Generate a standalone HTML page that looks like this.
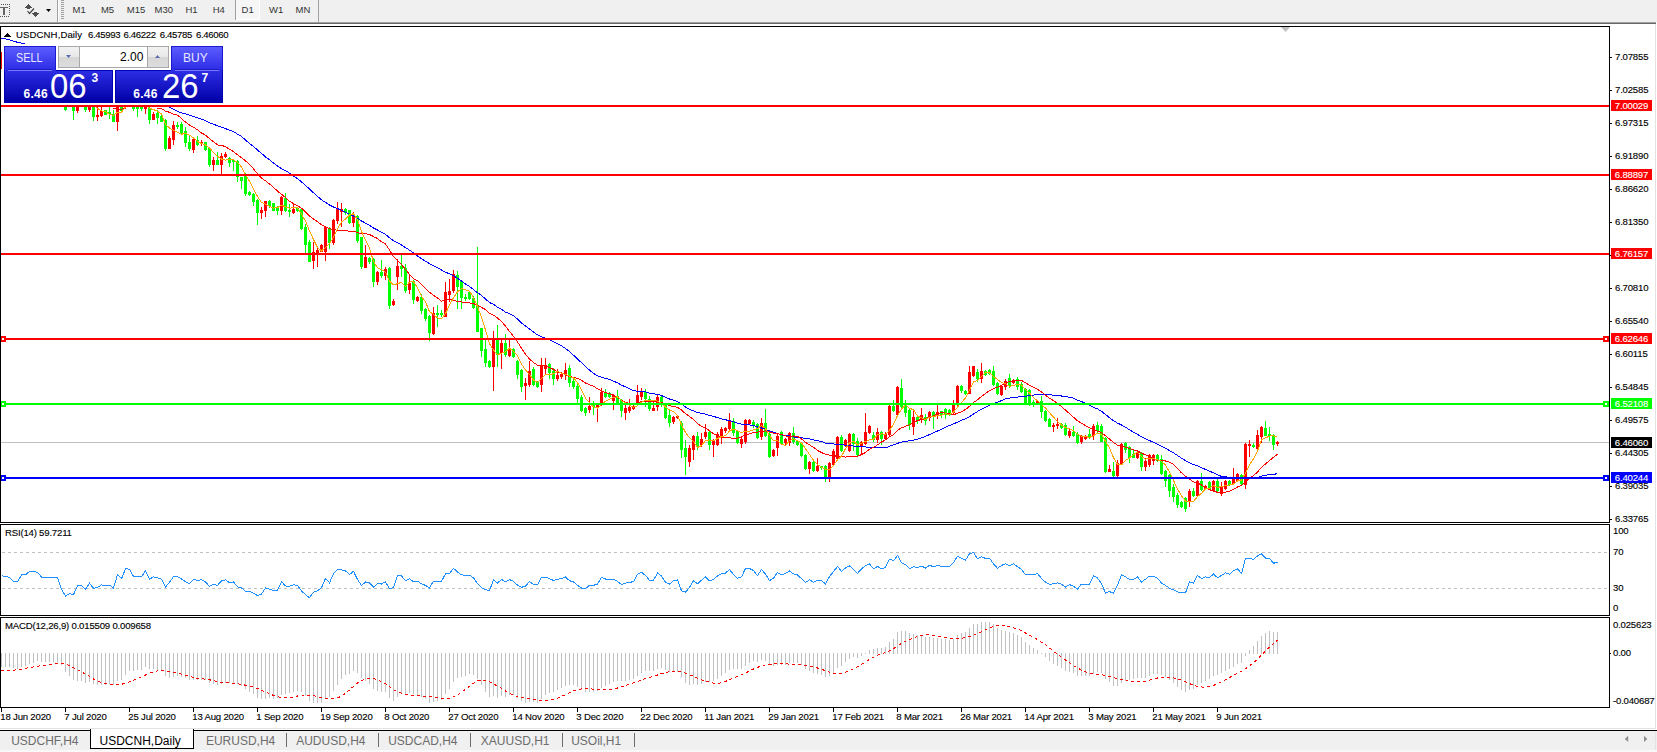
<!DOCTYPE html><html><head><meta charset="utf-8"><style>
*{margin:0;padding:0;box-sizing:border-box}
body{width:1657px;height:752px;overflow:hidden;background:#fff;position:relative;font-family:"Liberation Sans",sans-serif}
.t{position:absolute;white-space:nowrap;line-height:14px;font-size:9.6px;letter-spacing:-0.2px;-webkit-text-stroke:0.12px currentColor}
.lbl{position:absolute;left:1611px;width:41px;height:11px;font-size:9.6px;letter-spacing:-0.2px;-webkit-text-stroke:0.12px currentColor;line-height:12px;text-align:center;white-space:nowrap}
#tb{position:absolute;left:0;top:0;width:1657px;height:22px;background:#f0f0f0}
.tbt{position:absolute;top:3px;font-size:9.5px;line-height:13px;color:#333}
#tabs{position:absolute;left:0;top:728px;width:1657px;height:24px;background:#f0f0f0}
.tab{position:absolute;top:734px;font-size:12px;line-height:14px;color:#6d6d6d;white-space:nowrap}
</style></head><body>
<div id="tb">
<svg width="70" height="22" style="position:absolute;left:0;top:0" shape-rendering="crispEdges">
<rect x="1" y="4" width="1" height="1" fill="#555"/>
<rect x="0" y="16" width="1" height="1" fill="#555"/>
<rect x="3" y="4" width="1" height="1" fill="#555"/>
<rect x="2" y="16" width="1" height="1" fill="#555"/>
<rect x="5" y="4" width="1" height="1" fill="#555"/>
<rect x="4" y="16" width="1" height="1" fill="#555"/>
<rect x="7" y="4" width="1" height="1" fill="#555"/>
<rect x="6" y="16" width="1" height="1" fill="#555"/>
<rect x="9" y="4" width="1" height="1" fill="#555"/>
<rect x="8" y="16" width="1" height="1" fill="#555"/>
<rect x="9" y="6" width="1" height="1" fill="#555"/>
<rect x="9" y="8" width="1" height="1" fill="#555"/>
<rect x="9" y="10" width="1" height="1" fill="#555"/>
<rect x="9" y="12" width="1" height="1" fill="#555"/>
<rect x="9" y="14" width="1" height="1" fill="#555"/>
<rect x="0" y="7" width="8" height="1" fill="#666"/><rect x="3" y="7" width="2" height="8" fill="#666"/>
<rect x="28" y="4" width="1" height="1" fill="#505050"/>
<rect x="27" y="5" width="3" height="1" fill="#505050"/>
<rect x="26" y="6" width="5" height="1" fill="#505050"/>
<rect x="25" y="7" width="7" height="1" fill="#505050"/>
<rect x="27" y="8" width="3" height="1" fill="#505050"/>
<rect x="34" y="12" width="3" height="1" fill="#505050"/>
<rect x="32" y="13" width="7" height="1" fill="#505050"/>
<rect x="33" y="14" width="5" height="1" fill="#505050"/>
<rect x="34" y="15" width="3" height="1" fill="#505050"/>
<rect x="35" y="16" width="1" height="1" fill="#505050"/>
<polyline points="27.5,11 29.5,13.5 34,8.5" fill="none" stroke="#444" stroke-width="1.2" shape-rendering="auto"/>
<polygon points="46,9 51,9 48.5,12" fill="#000" shape-rendering="auto"/>
<rect x="57" y="0" width="1" height="22" fill="#a0a0a0"/><rect x="58" y="0" width="1" height="22" fill="#fff"/>
<rect x="61" y="0" width="3" height="1" fill="#a0a0a0"/>
<rect x="61" y="2" width="3" height="1" fill="#a0a0a0"/>
<rect x="61" y="4" width="3" height="1" fill="#a0a0a0"/>
<rect x="61" y="6" width="3" height="1" fill="#a0a0a0"/>
<rect x="61" y="8" width="3" height="1" fill="#a0a0a0"/>
<rect x="61" y="10" width="3" height="1" fill="#a0a0a0"/>
<rect x="61" y="12" width="3" height="1" fill="#a0a0a0"/>
<rect x="61" y="14" width="3" height="1" fill="#a0a0a0"/>
<rect x="61" y="16" width="3" height="1" fill="#a0a0a0"/>
<rect x="61" y="18" width="3" height="1" fill="#a0a0a0"/>
</svg>
<div style="position:absolute;left:235px;top:0;width:1px;height:20px;background:#a0a0a0"></div>
<div style="position:absolute;left:236px;top:0;width:24px;height:20px;background:#f6f6f6;border-right:1px solid #fff;border-bottom:1px solid #fff"></div>
<div style="position:absolute;left:318px;top:0;width:1px;height:22px;background:#a0a0a0"></div>
<div class="tbt" style="left:72.6px">M1</div>
<div class="tbt" style="left:100.9px">M5</div>
<div class="tbt" style="left:126.8px">M15</div>
<div class="tbt" style="left:154.6px">M30</div>
<div class="tbt" style="left:185.4px">H1</div>
<div class="tbt" style="left:212.7px">H4</div>
<div class="tbt" style="left:241.6px">D1</div>
<div class="tbt" style="left:269.0px">W1</div>
<div class="tbt" style="left:295.6px">MN</div>
</div>
<div style="position:absolute;left:0;top:22px;width:1656px;height:1px;background:#a0a0a0"></div>
<div style="position:absolute;left:0;top:23px;width:1656px;height:1px;background:#696969"></div>
<div style="position:absolute;left:1655px;top:24px;width:1px;height:704px;background:#e3e3e3"></div>
<svg width="1657" height="752" style="position:absolute;left:0;top:0" shape-rendering="crispEdges">
<defs><clipPath id="cm"><rect x="1" y="27" width="1608" height="495"/></clipPath><clipPath id="cr"><rect x="1" y="525" width="1608" height="90"/></clipPath><clipPath id="cd"><rect x="1" y="618" width="1608" height="89"/></clipPath><clipPath id="cma"><rect x="1" y="27" width="160" height="18"/><rect x="1" y="108" width="1608" height="414"/><rect x="158" y="27" width="1451" height="495"/></clipPath></defs>
<g clip-path="url(#cm)">
<rect x="1" y="442" width="1608" height="1" fill="#c0c0c0"/>
<rect x="65" y="107" width="1" height="4" fill="#00ff00"/>
<rect x="64" y="107" width="3" height="3" fill="#00ff00"/>
<rect x="73" y="107" width="1" height="13" fill="#00ff00"/>
<rect x="72" y="107" width="3" height="4" fill="#00ff00"/>
<rect x="77" y="107" width="1" height="6" fill="#ff0000"/>
<rect x="76" y="107" width="3" height="4" fill="#ff0000"/>
<rect x="85" y="107" width="1" height="5" fill="#00ff00"/>
<rect x="84" y="107" width="3" height="3" fill="#00ff00"/>
<rect x="89" y="107" width="1" height="5" fill="#ff0000"/>
<rect x="88" y="107" width="3" height="3" fill="#ff0000"/>
<rect x="93" y="107" width="1" height="14" fill="#00ff00"/>
<rect x="92" y="107" width="3" height="10" fill="#00ff00"/>
<rect x="97" y="107" width="1" height="14" fill="#ff0000"/>
<rect x="96" y="115" width="3" height="2" fill="#ff0000"/>
<rect x="101" y="107" width="1" height="10" fill="#ff0000"/>
<rect x="100" y="111" width="3" height="5" fill="#ff0000"/>
<rect x="105" y="110" width="1" height="5" fill="#00ff00"/>
<rect x="104" y="110" width="3" height="5" fill="#00ff00"/>
<rect x="109" y="107" width="1" height="12" fill="#00ff00"/>
<rect x="108" y="112" width="3" height="2" fill="#00ff00"/>
<rect x="113" y="110" width="1" height="12" fill="#00ff00"/>
<rect x="112" y="114" width="3" height="8" fill="#00ff00"/>
<rect x="117" y="107" width="1" height="24" fill="#ff0000"/>
<rect x="116" y="107" width="3" height="15" fill="#ff0000"/>
<rect x="121" y="107" width="1" height="5" fill="#00ff00"/>
<rect x="120" y="107" width="3" height="4" fill="#00ff00"/>
<rect x="133" y="107" width="1" height="4" fill="#00ff00"/>
<rect x="132" y="107" width="3" height="2" fill="#00ff00"/>
<rect x="137" y="107" width="1" height="10" fill="#00ff00"/>
<rect x="136" y="107" width="3" height="2" fill="#00ff00"/>
<rect x="141" y="107" width="1" height="4" fill="#00ff00"/>
<rect x="140" y="107" width="3" height="2" fill="#00ff00"/>
<rect x="145" y="107" width="1" height="7" fill="#ff0000"/>
<rect x="144" y="107" width="3" height="2" fill="#ff0000"/>
<rect x="149" y="107" width="1" height="17" fill="#00ff00"/>
<rect x="148" y="108" width="3" height="12" fill="#00ff00"/>
<rect x="153" y="112" width="1" height="8" fill="#ff0000"/>
<rect x="152" y="114" width="3" height="6" fill="#ff0000"/>
<rect x="157" y="110" width="1" height="14" fill="#00ff00"/>
<rect x="156" y="113" width="3" height="5" fill="#00ff00"/>
<rect x="161" y="115" width="1" height="7" fill="#00ff00"/>
<rect x="160" y="116" width="3" height="6" fill="#00ff00"/>
<rect x="165" y="119" width="1" height="32" fill="#00ff00"/>
<rect x="164" y="120" width="3" height="29" fill="#00ff00"/>
<rect x="169" y="136" width="1" height="13" fill="#ff0000"/>
<rect x="168" y="138" width="3" height="11" fill="#ff0000"/>
<rect x="173" y="121" width="1" height="24" fill="#ff0000"/>
<rect x="172" y="125" width="3" height="15" fill="#ff0000"/>
<rect x="177" y="122" width="1" height="7" fill="#00ff00"/>
<rect x="176" y="125" width="3" height="2" fill="#00ff00"/>
<rect x="181" y="122" width="1" height="12" fill="#00ff00"/>
<rect x="180" y="124" width="3" height="9" fill="#00ff00"/>
<rect x="185" y="127" width="1" height="20" fill="#00ff00"/>
<rect x="184" y="131" width="3" height="12" fill="#00ff00"/>
<rect x="189" y="135" width="1" height="16" fill="#00ff00"/>
<rect x="188" y="142" width="3" height="7" fill="#00ff00"/>
<rect x="193" y="139" width="1" height="14" fill="#ff0000"/>
<rect x="192" y="139" width="3" height="11" fill="#ff0000"/>
<rect x="197" y="136" width="1" height="10" fill="#00ff00"/>
<rect x="196" y="140" width="3" height="5" fill="#00ff00"/>
<rect x="201" y="140" width="1" height="6" fill="#ff0000"/>
<rect x="200" y="142" width="3" height="2" fill="#ff0000"/>
<rect x="205" y="142" width="1" height="9" fill="#00ff00"/>
<rect x="204" y="142" width="3" height="8" fill="#00ff00"/>
<rect x="209" y="148" width="1" height="19" fill="#00ff00"/>
<rect x="208" y="148" width="3" height="17" fill="#00ff00"/>
<rect x="213" y="157" width="1" height="14" fill="#ff0000"/>
<rect x="212" y="160" width="3" height="5" fill="#ff0000"/>
<rect x="217" y="152" width="1" height="13" fill="#00ff00"/>
<rect x="216" y="160" width="3" height="5" fill="#00ff00"/>
<rect x="221" y="153" width="1" height="22" fill="#ff0000"/>
<rect x="220" y="156" width="3" height="9" fill="#ff0000"/>
<rect x="225" y="152" width="1" height="6" fill="#ff0000"/>
<rect x="224" y="154" width="3" height="3" fill="#ff0000"/>
<rect x="229" y="157" width="1" height="10" fill="#00ff00"/>
<rect x="228" y="158" width="3" height="5" fill="#00ff00"/>
<rect x="233" y="159" width="1" height="12" fill="#00ff00"/>
<rect x="232" y="160" width="3" height="2" fill="#00ff00"/>
<rect x="237" y="160" width="1" height="22" fill="#00ff00"/>
<rect x="236" y="161" width="3" height="16" fill="#00ff00"/>
<rect x="241" y="177" width="1" height="12" fill="#00ff00"/>
<rect x="240" y="177" width="3" height="4" fill="#00ff00"/>
<rect x="245" y="173" width="1" height="23" fill="#00ff00"/>
<rect x="244" y="175" width="3" height="19" fill="#00ff00"/>
<rect x="249" y="191" width="1" height="5" fill="#00ff00"/>
<rect x="248" y="192" width="3" height="3" fill="#00ff00"/>
<rect x="253" y="193" width="1" height="13" fill="#00ff00"/>
<rect x="252" y="194" width="3" height="8" fill="#00ff00"/>
<rect x="257" y="199" width="1" height="26" fill="#00ff00"/>
<rect x="256" y="200" width="3" height="13" fill="#00ff00"/>
<rect x="261" y="207" width="1" height="12" fill="#ff0000"/>
<rect x="260" y="210" width="3" height="3" fill="#ff0000"/>
<rect x="265" y="201" width="1" height="16" fill="#ff0000"/>
<rect x="264" y="201" width="3" height="10" fill="#ff0000"/>
<rect x="269" y="200" width="1" height="8" fill="#00ff00"/>
<rect x="268" y="201" width="3" height="5" fill="#00ff00"/>
<rect x="273" y="203" width="1" height="8" fill="#00ff00"/>
<rect x="272" y="203" width="3" height="8" fill="#00ff00"/>
<rect x="277" y="206" width="1" height="9" fill="#00ff00"/>
<rect x="276" y="207" width="3" height="4" fill="#00ff00"/>
<rect x="281" y="196" width="1" height="19" fill="#ff0000"/>
<rect x="280" y="197" width="3" height="14" fill="#ff0000"/>
<rect x="285" y="193" width="1" height="19" fill="#00ff00"/>
<rect x="284" y="198" width="3" height="13" fill="#00ff00"/>
<rect x="289" y="204" width="1" height="13" fill="#00ff00"/>
<rect x="288" y="210" width="3" height="2" fill="#00ff00"/>
<rect x="293" y="203" width="1" height="11" fill="#ff0000"/>
<rect x="292" y="209" width="3" height="4" fill="#ff0000"/>
<rect x="297" y="207" width="1" height="5" fill="#00ff00"/>
<rect x="296" y="208" width="3" height="3" fill="#00ff00"/>
<rect x="301" y="209" width="1" height="21" fill="#00ff00"/>
<rect x="300" y="209" width="3" height="20" fill="#00ff00"/>
<rect x="305" y="224" width="1" height="29" fill="#00ff00"/>
<rect x="304" y="227" width="3" height="18" fill="#00ff00"/>
<rect x="309" y="240" width="1" height="22" fill="#00ff00"/>
<rect x="308" y="242" width="3" height="20" fill="#00ff00"/>
<rect x="313" y="242" width="1" height="27" fill="#ff0000"/>
<rect x="312" y="252" width="3" height="9" fill="#ff0000"/>
<rect x="317" y="246" width="1" height="21" fill="#ff0000"/>
<rect x="316" y="250" width="3" height="5" fill="#ff0000"/>
<rect x="321" y="244" width="1" height="8" fill="#ff0000"/>
<rect x="320" y="245" width="3" height="7" fill="#ff0000"/>
<rect x="325" y="226" width="1" height="35" fill="#ff0000"/>
<rect x="324" y="227" width="3" height="25" fill="#ff0000"/>
<rect x="329" y="227" width="1" height="22" fill="#00ff00"/>
<rect x="328" y="228" width="3" height="15" fill="#00ff00"/>
<rect x="333" y="219" width="1" height="26" fill="#ff0000"/>
<rect x="332" y="220" width="3" height="23" fill="#ff0000"/>
<rect x="337" y="202" width="1" height="22" fill="#ff0000"/>
<rect x="336" y="209" width="3" height="12" fill="#ff0000"/>
<rect x="341" y="203" width="1" height="24" fill="#ff0000"/>
<rect x="340" y="209" width="3" height="3" fill="#ff0000"/>
<rect x="345" y="208" width="1" height="7" fill="#00ff00"/>
<rect x="344" y="209" width="3" height="4" fill="#00ff00"/>
<rect x="349" y="210" width="1" height="14" fill="#00ff00"/>
<rect x="348" y="210" width="3" height="13" fill="#00ff00"/>
<rect x="353" y="212" width="1" height="15" fill="#ff0000"/>
<rect x="352" y="214" width="3" height="9" fill="#ff0000"/>
<rect x="357" y="215" width="1" height="28" fill="#00ff00"/>
<rect x="356" y="216" width="3" height="25" fill="#00ff00"/>
<rect x="361" y="237" width="1" height="32" fill="#00ff00"/>
<rect x="360" y="237" width="3" height="30" fill="#00ff00"/>
<rect x="365" y="245" width="1" height="23" fill="#ff0000"/>
<rect x="364" y="257" width="3" height="11" fill="#ff0000"/>
<rect x="369" y="257" width="1" height="7" fill="#00ff00"/>
<rect x="368" y="258" width="3" height="4" fill="#00ff00"/>
<rect x="373" y="258" width="1" height="29" fill="#00ff00"/>
<rect x="372" y="259" width="3" height="23" fill="#00ff00"/>
<rect x="377" y="271" width="1" height="14" fill="#ff0000"/>
<rect x="376" y="272" width="3" height="10" fill="#ff0000"/>
<rect x="381" y="260" width="1" height="18" fill="#00ff00"/>
<rect x="380" y="272" width="3" height="4" fill="#00ff00"/>
<rect x="385" y="267" width="1" height="13" fill="#ff0000"/>
<rect x="384" y="269" width="3" height="7" fill="#ff0000"/>
<rect x="389" y="267" width="1" height="42" fill="#00ff00"/>
<rect x="388" y="268" width="3" height="38" fill="#00ff00"/>
<rect x="393" y="299" width="1" height="7" fill="#ff0000"/>
<rect x="392" y="301" width="3" height="4" fill="#ff0000"/>
<rect x="397" y="259" width="1" height="31" fill="#ff0000"/>
<rect x="396" y="266" width="3" height="11" fill="#ff0000"/>
<rect x="401" y="255" width="1" height="22" fill="#00ff00"/>
<rect x="400" y="266" width="3" height="3" fill="#00ff00"/>
<rect x="405" y="264" width="1" height="29" fill="#00ff00"/>
<rect x="404" y="268" width="3" height="23" fill="#00ff00"/>
<rect x="409" y="274" width="1" height="20" fill="#ff0000"/>
<rect x="408" y="283" width="3" height="7" fill="#ff0000"/>
<rect x="413" y="280" width="1" height="24" fill="#00ff00"/>
<rect x="412" y="281" width="3" height="19" fill="#00ff00"/>
<rect x="417" y="296" width="1" height="6" fill="#ff0000"/>
<rect x="416" y="297" width="3" height="4" fill="#ff0000"/>
<rect x="421" y="294" width="1" height="20" fill="#00ff00"/>
<rect x="420" y="297" width="3" height="14" fill="#00ff00"/>
<rect x="425" y="308" width="1" height="13" fill="#00ff00"/>
<rect x="424" y="309" width="3" height="10" fill="#00ff00"/>
<rect x="429" y="315" width="1" height="26" fill="#00ff00"/>
<rect x="428" y="316" width="3" height="17" fill="#00ff00"/>
<rect x="433" y="307" width="1" height="28" fill="#ff0000"/>
<rect x="432" y="313" width="3" height="21" fill="#ff0000"/>
<rect x="437" y="305" width="1" height="22" fill="#00ff00"/>
<rect x="436" y="313" width="3" height="2" fill="#00ff00"/>
<rect x="441" y="310" width="1" height="7" fill="#00ff00"/>
<rect x="440" y="313" width="3" height="2" fill="#00ff00"/>
<rect x="445" y="282" width="1" height="35" fill="#ff0000"/>
<rect x="444" y="292" width="3" height="25" fill="#ff0000"/>
<rect x="449" y="279" width="1" height="23" fill="#ff0000"/>
<rect x="448" y="291" width="3" height="4" fill="#ff0000"/>
<rect x="453" y="270" width="1" height="23" fill="#ff0000"/>
<rect x="452" y="274" width="3" height="17" fill="#ff0000"/>
<rect x="457" y="271" width="1" height="38" fill="#00ff00"/>
<rect x="456" y="275" width="3" height="12" fill="#00ff00"/>
<rect x="461" y="280" width="1" height="29" fill="#00ff00"/>
<rect x="460" y="281" width="3" height="17" fill="#00ff00"/>
<rect x="465" y="294" width="1" height="7" fill="#00ff00"/>
<rect x="464" y="297" width="3" height="2" fill="#00ff00"/>
<rect x="469" y="291" width="1" height="9" fill="#00ff00"/>
<rect x="468" y="292" width="3" height="7" fill="#00ff00"/>
<rect x="473" y="296" width="1" height="13" fill="#00ff00"/>
<rect x="472" y="298" width="3" height="10" fill="#00ff00"/>
<rect x="477" y="247" width="1" height="85" fill="#00ff00"/>
<rect x="476" y="306" width="3" height="26" fill="#00ff00"/>
<rect x="481" y="328" width="1" height="29" fill="#00ff00"/>
<rect x="480" y="328" width="3" height="23" fill="#00ff00"/>
<rect x="485" y="340" width="1" height="27" fill="#00ff00"/>
<rect x="484" y="349" width="3" height="14" fill="#00ff00"/>
<rect x="489" y="360" width="1" height="8" fill="#00ff00"/>
<rect x="488" y="361" width="3" height="6" fill="#00ff00"/>
<rect x="493" y="331" width="1" height="60" fill="#ff0000"/>
<rect x="492" y="339" width="3" height="28" fill="#ff0000"/>
<rect x="497" y="325" width="1" height="42" fill="#00ff00"/>
<rect x="496" y="340" width="3" height="15" fill="#00ff00"/>
<rect x="501" y="339" width="1" height="30" fill="#ff0000"/>
<rect x="500" y="343" width="3" height="10" fill="#ff0000"/>
<rect x="505" y="334" width="1" height="23" fill="#00ff00"/>
<rect x="504" y="343" width="3" height="12" fill="#00ff00"/>
<rect x="509" y="340" width="1" height="17" fill="#ff0000"/>
<rect x="508" y="348" width="3" height="8" fill="#ff0000"/>
<rect x="513" y="348" width="1" height="10" fill="#00ff00"/>
<rect x="512" y="349" width="3" height="8" fill="#00ff00"/>
<rect x="517" y="360" width="1" height="19" fill="#00ff00"/>
<rect x="516" y="361" width="3" height="14" fill="#00ff00"/>
<rect x="521" y="369" width="1" height="23" fill="#00ff00"/>
<rect x="520" y="370" width="3" height="17" fill="#00ff00"/>
<rect x="525" y="378" width="1" height="22" fill="#ff0000"/>
<rect x="524" y="383" width="3" height="3" fill="#ff0000"/>
<rect x="529" y="361" width="1" height="26" fill="#ff0000"/>
<rect x="528" y="371" width="3" height="14" fill="#ff0000"/>
<rect x="533" y="367" width="1" height="19" fill="#00ff00"/>
<rect x="532" y="369" width="3" height="16" fill="#00ff00"/>
<rect x="537" y="381" width="1" height="7" fill="#00ff00"/>
<rect x="536" y="382" width="3" height="5" fill="#00ff00"/>
<rect x="541" y="358" width="1" height="34" fill="#ff0000"/>
<rect x="540" y="365" width="3" height="20" fill="#ff0000"/>
<rect x="545" y="358" width="1" height="17" fill="#ff0000"/>
<rect x="544" y="365" width="3" height="4" fill="#ff0000"/>
<rect x="549" y="363" width="1" height="16" fill="#00ff00"/>
<rect x="548" y="364" width="3" height="9" fill="#00ff00"/>
<rect x="553" y="368" width="1" height="17" fill="#00ff00"/>
<rect x="552" y="371" width="3" height="8" fill="#00ff00"/>
<rect x="557" y="369" width="1" height="12" fill="#ff0000"/>
<rect x="556" y="375" width="3" height="4" fill="#ff0000"/>
<rect x="561" y="372" width="1" height="7" fill="#ff0000"/>
<rect x="560" y="374" width="3" height="3" fill="#ff0000"/>
<rect x="565" y="363" width="1" height="17" fill="#ff0000"/>
<rect x="564" y="370" width="3" height="4" fill="#ff0000"/>
<rect x="569" y="365" width="1" height="22" fill="#00ff00"/>
<rect x="568" y="368" width="3" height="15" fill="#00ff00"/>
<rect x="573" y="379" width="1" height="10" fill="#00ff00"/>
<rect x="572" y="381" width="3" height="6" fill="#00ff00"/>
<rect x="577" y="384" width="1" height="21" fill="#00ff00"/>
<rect x="576" y="386" width="3" height="13" fill="#00ff00"/>
<rect x="581" y="395" width="1" height="17" fill="#00ff00"/>
<rect x="580" y="397" width="3" height="14" fill="#00ff00"/>
<rect x="585" y="407" width="1" height="9" fill="#00ff00"/>
<rect x="584" y="408" width="3" height="5" fill="#00ff00"/>
<rect x="589" y="397" width="1" height="16" fill="#ff0000"/>
<rect x="588" y="406" width="3" height="4" fill="#ff0000"/>
<rect x="593" y="401" width="1" height="14" fill="#00ff00"/>
<rect x="592" y="403" width="3" height="4" fill="#00ff00"/>
<rect x="597" y="404" width="1" height="18" fill="#ff0000"/>
<rect x="596" y="404" width="3" height="3" fill="#ff0000"/>
<rect x="601" y="388" width="1" height="18" fill="#ff0000"/>
<rect x="600" y="392" width="3" height="13" fill="#ff0000"/>
<rect x="605" y="389" width="1" height="9" fill="#00ff00"/>
<rect x="604" y="392" width="3" height="5" fill="#00ff00"/>
<rect x="609" y="392" width="1" height="6" fill="#00ff00"/>
<rect x="608" y="393" width="3" height="4" fill="#00ff00"/>
<rect x="613" y="394" width="1" height="16" fill="#ff0000"/>
<rect x="612" y="396" width="3" height="5" fill="#ff0000"/>
<rect x="617" y="390" width="1" height="15" fill="#00ff00"/>
<rect x="616" y="396" width="3" height="7" fill="#00ff00"/>
<rect x="621" y="399" width="1" height="18" fill="#00ff00"/>
<rect x="620" y="400" width="3" height="11" fill="#00ff00"/>
<rect x="625" y="403" width="1" height="17" fill="#ff0000"/>
<rect x="624" y="408" width="3" height="5" fill="#ff0000"/>
<rect x="629" y="399" width="1" height="14" fill="#ff0000"/>
<rect x="628" y="407" width="3" height="4" fill="#ff0000"/>
<rect x="633" y="404" width="1" height="6" fill="#ff0000"/>
<rect x="632" y="406" width="3" height="3" fill="#ff0000"/>
<rect x="637" y="385" width="1" height="20" fill="#ff0000"/>
<rect x="636" y="395" width="3" height="10" fill="#ff0000"/>
<rect x="641" y="388" width="1" height="12" fill="#ff0000"/>
<rect x="640" y="392" width="3" height="5" fill="#ff0000"/>
<rect x="645" y="389" width="1" height="18" fill="#00ff00"/>
<rect x="644" y="392" width="3" height="7" fill="#00ff00"/>
<rect x="649" y="396" width="1" height="15" fill="#00ff00"/>
<rect x="648" y="399" width="3" height="10" fill="#00ff00"/>
<rect x="653" y="402" width="1" height="9" fill="#ff0000"/>
<rect x="652" y="408" width="3" height="3" fill="#ff0000"/>
<rect x="657" y="395" width="1" height="16" fill="#ff0000"/>
<rect x="656" y="397" width="3" height="10" fill="#ff0000"/>
<rect x="661" y="396" width="1" height="11" fill="#00ff00"/>
<rect x="660" y="397" width="3" height="7" fill="#00ff00"/>
<rect x="665" y="404" width="1" height="15" fill="#00ff00"/>
<rect x="664" y="405" width="3" height="13" fill="#00ff00"/>
<rect x="669" y="410" width="1" height="17" fill="#00ff00"/>
<rect x="668" y="415" width="3" height="8" fill="#00ff00"/>
<rect x="673" y="416" width="1" height="8" fill="#ff0000"/>
<rect x="672" y="417" width="3" height="5" fill="#ff0000"/>
<rect x="677" y="415" width="1" height="4" fill="#ff0000"/>
<rect x="676" y="416" width="3" height="2" fill="#ff0000"/>
<rect x="681" y="421" width="1" height="37" fill="#00ff00"/>
<rect x="680" y="423" width="3" height="27" fill="#00ff00"/>
<rect x="685" y="440" width="1" height="35" fill="#00ff00"/>
<rect x="684" y="448" width="3" height="9" fill="#00ff00"/>
<rect x="689" y="445" width="1" height="22" fill="#ff0000"/>
<rect x="688" y="448" width="3" height="14" fill="#ff0000"/>
<rect x="693" y="435" width="1" height="25" fill="#ff0000"/>
<rect x="692" y="436" width="3" height="14" fill="#ff0000"/>
<rect x="697" y="432" width="1" height="18" fill="#00ff00"/>
<rect x="696" y="436" width="3" height="11" fill="#00ff00"/>
<rect x="701" y="433" width="1" height="14" fill="#ff0000"/>
<rect x="700" y="439" width="3" height="6" fill="#ff0000"/>
<rect x="705" y="424" width="1" height="15" fill="#ff0000"/>
<rect x="704" y="432" width="3" height="5" fill="#ff0000"/>
<rect x="709" y="431" width="1" height="19" fill="#00ff00"/>
<rect x="708" y="432" width="3" height="13" fill="#00ff00"/>
<rect x="713" y="439" width="1" height="18" fill="#ff0000"/>
<rect x="712" y="441" width="3" height="4" fill="#ff0000"/>
<rect x="717" y="432" width="1" height="14" fill="#ff0000"/>
<rect x="716" y="434" width="3" height="11" fill="#ff0000"/>
<rect x="721" y="427" width="1" height="17" fill="#ff0000"/>
<rect x="720" y="429" width="3" height="8" fill="#ff0000"/>
<rect x="725" y="427" width="1" height="6" fill="#ff0000"/>
<rect x="724" y="428" width="3" height="3" fill="#ff0000"/>
<rect x="729" y="413" width="1" height="18" fill="#ff0000"/>
<rect x="728" y="420" width="3" height="9" fill="#ff0000"/>
<rect x="733" y="418" width="1" height="18" fill="#00ff00"/>
<rect x="732" y="421" width="3" height="12" fill="#00ff00"/>
<rect x="737" y="430" width="1" height="14" fill="#00ff00"/>
<rect x="736" y="431" width="3" height="12" fill="#00ff00"/>
<rect x="741" y="437" width="1" height="11" fill="#ff0000"/>
<rect x="740" y="439" width="3" height="5" fill="#ff0000"/>
<rect x="745" y="419" width="1" height="25" fill="#ff0000"/>
<rect x="744" y="420" width="3" height="22" fill="#ff0000"/>
<rect x="749" y="419" width="1" height="6" fill="#ff0000"/>
<rect x="748" y="420" width="3" height="4" fill="#ff0000"/>
<rect x="753" y="420" width="1" height="8" fill="#00ff00"/>
<rect x="752" y="422" width="3" height="4" fill="#00ff00"/>
<rect x="757" y="423" width="1" height="16" fill="#00ff00"/>
<rect x="756" y="424" width="3" height="14" fill="#00ff00"/>
<rect x="761" y="418" width="1" height="22" fill="#ff0000"/>
<rect x="760" y="423" width="3" height="14" fill="#ff0000"/>
<rect x="765" y="409" width="1" height="28" fill="#00ff00"/>
<rect x="764" y="423" width="3" height="13" fill="#00ff00"/>
<rect x="769" y="432" width="1" height="26" fill="#00ff00"/>
<rect x="768" y="434" width="3" height="23" fill="#00ff00"/>
<rect x="773" y="449" width="1" height="8" fill="#ff0000"/>
<rect x="772" y="450" width="3" height="6" fill="#ff0000"/>
<rect x="777" y="433" width="1" height="23" fill="#ff0000"/>
<rect x="776" y="436" width="3" height="12" fill="#ff0000"/>
<rect x="781" y="431" width="1" height="14" fill="#00ff00"/>
<rect x="780" y="432" width="3" height="12" fill="#00ff00"/>
<rect x="785" y="438" width="1" height="8" fill="#ff0000"/>
<rect x="784" y="439" width="3" height="4" fill="#ff0000"/>
<rect x="789" y="432" width="1" height="14" fill="#ff0000"/>
<rect x="788" y="433" width="3" height="10" fill="#ff0000"/>
<rect x="793" y="427" width="1" height="17" fill="#00ff00"/>
<rect x="792" y="433" width="3" height="9" fill="#00ff00"/>
<rect x="797" y="440" width="1" height="6" fill="#00ff00"/>
<rect x="796" y="441" width="3" height="4" fill="#00ff00"/>
<rect x="801" y="442" width="1" height="15" fill="#00ff00"/>
<rect x="800" y="443" width="3" height="13" fill="#00ff00"/>
<rect x="805" y="454" width="1" height="16" fill="#00ff00"/>
<rect x="804" y="455" width="3" height="14" fill="#00ff00"/>
<rect x="809" y="461" width="1" height="13" fill="#ff0000"/>
<rect x="808" y="462" width="3" height="7" fill="#ff0000"/>
<rect x="813" y="460" width="1" height="12" fill="#00ff00"/>
<rect x="812" y="462" width="3" height="9" fill="#00ff00"/>
<rect x="817" y="458" width="1" height="14" fill="#ff0000"/>
<rect x="816" y="466" width="3" height="5" fill="#ff0000"/>
<rect x="821" y="466" width="1" height="4" fill="#00ff00"/>
<rect x="820" y="466" width="3" height="2" fill="#00ff00"/>
<rect x="825" y="465" width="1" height="17" fill="#00ff00"/>
<rect x="824" y="466" width="3" height="13" fill="#00ff00"/>
<rect x="829" y="462" width="1" height="20" fill="#ff0000"/>
<rect x="828" y="463" width="3" height="16" fill="#ff0000"/>
<rect x="833" y="449" width="1" height="16" fill="#ff0000"/>
<rect x="832" y="451" width="3" height="14" fill="#ff0000"/>
<rect x="837" y="436" width="1" height="24" fill="#ff0000"/>
<rect x="836" y="437" width="3" height="22" fill="#ff0000"/>
<rect x="841" y="435" width="1" height="17" fill="#00ff00"/>
<rect x="840" y="437" width="3" height="14" fill="#00ff00"/>
<rect x="845" y="439" width="1" height="8" fill="#ff0000"/>
<rect x="844" y="440" width="3" height="6" fill="#ff0000"/>
<rect x="849" y="433" width="1" height="19" fill="#ff0000"/>
<rect x="848" y="434" width="3" height="17" fill="#ff0000"/>
<rect x="853" y="433" width="1" height="18" fill="#00ff00"/>
<rect x="852" y="434" width="3" height="10" fill="#00ff00"/>
<rect x="857" y="438" width="1" height="18" fill="#00ff00"/>
<rect x="856" y="441" width="3" height="14" fill="#00ff00"/>
<rect x="861" y="441" width="1" height="13" fill="#ff0000"/>
<rect x="860" y="442" width="3" height="5" fill="#ff0000"/>
<rect x="865" y="413" width="1" height="32" fill="#ff0000"/>
<rect x="864" y="432" width="3" height="12" fill="#ff0000"/>
<rect x="869" y="425" width="1" height="9" fill="#ff0000"/>
<rect x="868" y="426" width="3" height="7" fill="#ff0000"/>
<rect x="873" y="432" width="1" height="10" fill="#00ff00"/>
<rect x="872" y="435" width="3" height="5" fill="#00ff00"/>
<rect x="877" y="428" width="1" height="15" fill="#ff0000"/>
<rect x="876" y="432" width="3" height="8" fill="#ff0000"/>
<rect x="881" y="431" width="1" height="14" fill="#00ff00"/>
<rect x="880" y="432" width="3" height="7" fill="#00ff00"/>
<rect x="885" y="432" width="1" height="8" fill="#ff0000"/>
<rect x="884" y="434" width="3" height="5" fill="#ff0000"/>
<rect x="889" y="405" width="1" height="31" fill="#ff0000"/>
<rect x="888" y="406" width="3" height="29" fill="#ff0000"/>
<rect x="893" y="400" width="1" height="12" fill="#00ff00"/>
<rect x="892" y="406" width="3" height="5" fill="#00ff00"/>
<rect x="897" y="386" width="1" height="30" fill="#ff0000"/>
<rect x="896" y="387" width="3" height="28" fill="#ff0000"/>
<rect x="901" y="379" width="1" height="30" fill="#00ff00"/>
<rect x="900" y="388" width="3" height="19" fill="#00ff00"/>
<rect x="905" y="400" width="1" height="17" fill="#00ff00"/>
<rect x="904" y="404" width="3" height="9" fill="#00ff00"/>
<rect x="909" y="408" width="1" height="22" fill="#00ff00"/>
<rect x="908" y="410" width="3" height="15" fill="#00ff00"/>
<rect x="913" y="410" width="1" height="25" fill="#ff0000"/>
<rect x="912" y="417" width="3" height="10" fill="#ff0000"/>
<rect x="917" y="416" width="1" height="8" fill="#00ff00"/>
<rect x="916" y="417" width="3" height="3" fill="#00ff00"/>
<rect x="921" y="408" width="1" height="15" fill="#ff0000"/>
<rect x="920" y="415" width="3" height="5" fill="#ff0000"/>
<rect x="925" y="414" width="1" height="11" fill="#00ff00"/>
<rect x="924" y="417" width="3" height="4" fill="#00ff00"/>
<rect x="929" y="411" width="1" height="10" fill="#ff0000"/>
<rect x="928" y="412" width="3" height="6" fill="#ff0000"/>
<rect x="933" y="411" width="1" height="18" fill="#00ff00"/>
<rect x="932" y="412" width="3" height="4" fill="#00ff00"/>
<rect x="937" y="405" width="1" height="14" fill="#ff0000"/>
<rect x="936" y="412" width="3" height="4" fill="#ff0000"/>
<rect x="941" y="411" width="1" height="7" fill="#00ff00"/>
<rect x="940" y="411" width="3" height="4" fill="#00ff00"/>
<rect x="945" y="408" width="1" height="11" fill="#00ff00"/>
<rect x="944" y="409" width="3" height="6" fill="#00ff00"/>
<rect x="949" y="409" width="1" height="7" fill="#00ff00"/>
<rect x="948" y="410" width="3" height="5" fill="#00ff00"/>
<rect x="953" y="400" width="1" height="15" fill="#ff0000"/>
<rect x="952" y="405" width="3" height="8" fill="#ff0000"/>
<rect x="957" y="385" width="1" height="21" fill="#ff0000"/>
<rect x="956" y="386" width="3" height="19" fill="#ff0000"/>
<rect x="961" y="385" width="1" height="8" fill="#00ff00"/>
<rect x="960" y="386" width="3" height="5" fill="#00ff00"/>
<rect x="965" y="390" width="1" height="5" fill="#00ff00"/>
<rect x="964" y="391" width="3" height="3" fill="#00ff00"/>
<rect x="969" y="366" width="1" height="28" fill="#ff0000"/>
<rect x="968" y="372" width="3" height="22" fill="#ff0000"/>
<rect x="973" y="366" width="1" height="11" fill="#ff0000"/>
<rect x="972" y="366" width="3" height="10" fill="#ff0000"/>
<rect x="977" y="369" width="1" height="13" fill="#00ff00"/>
<rect x="976" y="372" width="3" height="7" fill="#00ff00"/>
<rect x="981" y="363" width="1" height="20" fill="#ff0000"/>
<rect x="980" y="371" width="3" height="8" fill="#ff0000"/>
<rect x="985" y="370" width="1" height="6" fill="#00ff00"/>
<rect x="984" y="371" width="3" height="4" fill="#00ff00"/>
<rect x="989" y="369" width="1" height="6" fill="#00ff00"/>
<rect x="988" y="370" width="3" height="4" fill="#00ff00"/>
<rect x="993" y="366" width="1" height="20" fill="#00ff00"/>
<rect x="992" y="371" width="3" height="14" fill="#00ff00"/>
<rect x="997" y="382" width="1" height="13" fill="#00ff00"/>
<rect x="996" y="383" width="3" height="11" fill="#00ff00"/>
<rect x="1001" y="385" width="1" height="11" fill="#ff0000"/>
<rect x="1000" y="386" width="3" height="9" fill="#ff0000"/>
<rect x="1005" y="379" width="1" height="11" fill="#ff0000"/>
<rect x="1004" y="381" width="3" height="6" fill="#ff0000"/>
<rect x="1009" y="374" width="1" height="14" fill="#00ff00"/>
<rect x="1008" y="378" width="3" height="8" fill="#00ff00"/>
<rect x="1013" y="379" width="1" height="5" fill="#ff0000"/>
<rect x="1012" y="380" width="3" height="3" fill="#ff0000"/>
<rect x="1017" y="377" width="1" height="13" fill="#00ff00"/>
<rect x="1016" y="379" width="3" height="8" fill="#00ff00"/>
<rect x="1021" y="382" width="1" height="11" fill="#00ff00"/>
<rect x="1020" y="384" width="3" height="8" fill="#00ff00"/>
<rect x="1025" y="388" width="1" height="17" fill="#00ff00"/>
<rect x="1024" y="389" width="3" height="15" fill="#00ff00"/>
<rect x="1029" y="389" width="1" height="17" fill="#00ff00"/>
<rect x="1028" y="390" width="3" height="14" fill="#00ff00"/>
<rect x="1033" y="400" width="1" height="7" fill="#00ff00"/>
<rect x="1032" y="402" width="3" height="2" fill="#00ff00"/>
<rect x="1037" y="400" width="1" height="5" fill="#ff0000"/>
<rect x="1036" y="401" width="3" height="3" fill="#ff0000"/>
<rect x="1041" y="396" width="1" height="22" fill="#00ff00"/>
<rect x="1040" y="401" width="3" height="11" fill="#00ff00"/>
<rect x="1045" y="410" width="1" height="12" fill="#00ff00"/>
<rect x="1044" y="411" width="3" height="10" fill="#00ff00"/>
<rect x="1049" y="418" width="1" height="9" fill="#00ff00"/>
<rect x="1048" y="419" width="3" height="8" fill="#00ff00"/>
<rect x="1053" y="423" width="1" height="9" fill="#ff0000"/>
<rect x="1052" y="425" width="3" height="2" fill="#ff0000"/>
<rect x="1057" y="418" width="1" height="11" fill="#ff0000"/>
<rect x="1056" y="424" width="3" height="2" fill="#ff0000"/>
<rect x="1061" y="423" width="1" height="6" fill="#00ff00"/>
<rect x="1060" y="424" width="3" height="4" fill="#00ff00"/>
<rect x="1065" y="423" width="1" height="13" fill="#00ff00"/>
<rect x="1064" y="425" width="3" height="10" fill="#00ff00"/>
<rect x="1069" y="429" width="1" height="9" fill="#ff0000"/>
<rect x="1068" y="431" width="3" height="5" fill="#ff0000"/>
<rect x="1073" y="426" width="1" height="11" fill="#00ff00"/>
<rect x="1072" y="432" width="3" height="4" fill="#00ff00"/>
<rect x="1077" y="432" width="1" height="12" fill="#00ff00"/>
<rect x="1076" y="434" width="3" height="9" fill="#00ff00"/>
<rect x="1081" y="435" width="1" height="9" fill="#ff0000"/>
<rect x="1080" y="436" width="3" height="6" fill="#ff0000"/>
<rect x="1085" y="435" width="1" height="5" fill="#ff0000"/>
<rect x="1084" y="436" width="3" height="3" fill="#ff0000"/>
<rect x="1089" y="429" width="1" height="10" fill="#00ff00"/>
<rect x="1088" y="434" width="3" height="3" fill="#00ff00"/>
<rect x="1093" y="424" width="1" height="16" fill="#ff0000"/>
<rect x="1092" y="426" width="3" height="10" fill="#ff0000"/>
<rect x="1097" y="422" width="1" height="12" fill="#00ff00"/>
<rect x="1096" y="425" width="3" height="6" fill="#00ff00"/>
<rect x="1101" y="424" width="1" height="18" fill="#00ff00"/>
<rect x="1100" y="426" width="3" height="16" fill="#00ff00"/>
<rect x="1105" y="437" width="1" height="36" fill="#00ff00"/>
<rect x="1104" y="438" width="3" height="34" fill="#00ff00"/>
<rect x="1109" y="465" width="1" height="7" fill="#ff0000"/>
<rect x="1108" y="469" width="3" height="3" fill="#ff0000"/>
<rect x="1113" y="462" width="1" height="16" fill="#00ff00"/>
<rect x="1112" y="471" width="3" height="5" fill="#00ff00"/>
<rect x="1117" y="460" width="1" height="17" fill="#ff0000"/>
<rect x="1116" y="463" width="3" height="13" fill="#ff0000"/>
<rect x="1121" y="443" width="1" height="22" fill="#ff0000"/>
<rect x="1120" y="444" width="3" height="20" fill="#ff0000"/>
<rect x="1125" y="442" width="1" height="11" fill="#00ff00"/>
<rect x="1124" y="443" width="3" height="7" fill="#00ff00"/>
<rect x="1129" y="446" width="1" height="17" fill="#00ff00"/>
<rect x="1128" y="447" width="3" height="11" fill="#00ff00"/>
<rect x="1133" y="450" width="1" height="8" fill="#00ff00"/>
<rect x="1132" y="454" width="3" height="4" fill="#00ff00"/>
<rect x="1137" y="451" width="1" height="8" fill="#ff0000"/>
<rect x="1136" y="452" width="3" height="6" fill="#ff0000"/>
<rect x="1141" y="452" width="1" height="19" fill="#00ff00"/>
<rect x="1140" y="453" width="3" height="14" fill="#00ff00"/>
<rect x="1145" y="458" width="1" height="13" fill="#ff0000"/>
<rect x="1144" y="461" width="3" height="6" fill="#ff0000"/>
<rect x="1149" y="454" width="1" height="13" fill="#ff0000"/>
<rect x="1148" y="455" width="3" height="10" fill="#ff0000"/>
<rect x="1153" y="454" width="1" height="11" fill="#ff0000"/>
<rect x="1152" y="455" width="3" height="6" fill="#ff0000"/>
<rect x="1157" y="454" width="1" height="8" fill="#00ff00"/>
<rect x="1156" y="455" width="3" height="6" fill="#00ff00"/>
<rect x="1161" y="455" width="1" height="20" fill="#00ff00"/>
<rect x="1160" y="459" width="3" height="15" fill="#00ff00"/>
<rect x="1165" y="470" width="1" height="17" fill="#00ff00"/>
<rect x="1164" y="471" width="3" height="10" fill="#00ff00"/>
<rect x="1169" y="474" width="1" height="23" fill="#00ff00"/>
<rect x="1168" y="475" width="3" height="16" fill="#00ff00"/>
<rect x="1173" y="484" width="1" height="18" fill="#00ff00"/>
<rect x="1172" y="487" width="3" height="10" fill="#00ff00"/>
<rect x="1177" y="493" width="1" height="15" fill="#00ff00"/>
<rect x="1176" y="495" width="3" height="10" fill="#00ff00"/>
<rect x="1181" y="501" width="1" height="7" fill="#00ff00"/>
<rect x="1180" y="502" width="3" height="5" fill="#00ff00"/>
<rect x="1185" y="497" width="1" height="15" fill="#00ff00"/>
<rect x="1184" y="498" width="3" height="11" fill="#00ff00"/>
<rect x="1189" y="489" width="1" height="18" fill="#ff0000"/>
<rect x="1188" y="491" width="3" height="10" fill="#ff0000"/>
<rect x="1193" y="488" width="1" height="9" fill="#00ff00"/>
<rect x="1192" y="491" width="3" height="5" fill="#00ff00"/>
<rect x="1197" y="480" width="1" height="17" fill="#ff0000"/>
<rect x="1196" y="481" width="3" height="15" fill="#ff0000"/>
<rect x="1201" y="473" width="1" height="18" fill="#00ff00"/>
<rect x="1200" y="481" width="3" height="9" fill="#00ff00"/>
<rect x="1205" y="485" width="1" height="5" fill="#ff0000"/>
<rect x="1204" y="486" width="3" height="3" fill="#ff0000"/>
<rect x="1209" y="481" width="1" height="9" fill="#00ff00"/>
<rect x="1208" y="482" width="3" height="7" fill="#00ff00"/>
<rect x="1213" y="480" width="1" height="12" fill="#ff0000"/>
<rect x="1212" y="481" width="3" height="10" fill="#ff0000"/>
<rect x="1217" y="478" width="1" height="15" fill="#00ff00"/>
<rect x="1216" y="481" width="3" height="10" fill="#00ff00"/>
<rect x="1221" y="482" width="1" height="14" fill="#ff0000"/>
<rect x="1220" y="486" width="3" height="8" fill="#ff0000"/>
<rect x="1225" y="480" width="1" height="10" fill="#ff0000"/>
<rect x="1224" y="481" width="3" height="8" fill="#ff0000"/>
<rect x="1229" y="480" width="1" height="6" fill="#00ff00"/>
<rect x="1228" y="481" width="3" height="4" fill="#00ff00"/>
<rect x="1233" y="468" width="1" height="17" fill="#ff0000"/>
<rect x="1232" y="477" width="3" height="7" fill="#ff0000"/>
<rect x="1237" y="473" width="1" height="9" fill="#ff0000"/>
<rect x="1236" y="474" width="3" height="7" fill="#ff0000"/>
<rect x="1241" y="474" width="1" height="11" fill="#00ff00"/>
<rect x="1240" y="475" width="3" height="9" fill="#00ff00"/>
<rect x="1245" y="443" width="1" height="46" fill="#ff0000"/>
<rect x="1244" y="444" width="3" height="41" fill="#ff0000"/>
<rect x="1249" y="440" width="1" height="17" fill="#ff0000"/>
<rect x="1248" y="444" width="3" height="2" fill="#ff0000"/>
<rect x="1253" y="443" width="1" height="5" fill="#00ff00"/>
<rect x="1252" y="445" width="3" height="2" fill="#00ff00"/>
<rect x="1257" y="430" width="1" height="20" fill="#ff0000"/>
<rect x="1256" y="435" width="3" height="14" fill="#ff0000"/>
<rect x="1261" y="426" width="1" height="17" fill="#ff0000"/>
<rect x="1260" y="427" width="3" height="10" fill="#ff0000"/>
<rect x="1265" y="421" width="1" height="15" fill="#00ff00"/>
<rect x="1264" y="428" width="3" height="8" fill="#00ff00"/>
<rect x="1269" y="427" width="1" height="14" fill="#00ff00"/>
<rect x="1268" y="434" width="3" height="2" fill="#00ff00"/>
<rect x="1273" y="434" width="1" height="16" fill="#00ff00"/>
<rect x="1272" y="435" width="3" height="10" fill="#00ff00"/>
<rect x="1277" y="441" width="1" height="5" fill="#ff0000"/>
<rect x="1276" y="442" width="3" height="2" fill="#ff0000"/>
<polyline points="1.5,38.0 5.5,38.8 9.5,39.8 13.5,41.1 17.5,42.3 21.5,43.2 25.5,44.2 29.5,45.2 33.5,46.5 37.5,48.1 41.5,50.1 45.5,52.2 49.5,54.5 53.5,56.6 57.5,58.5 61.5,60.8 65.5,63.7 69.5,66.1 73.5,68.3 77.5,69.8 81.5,71.1 85.5,72.6 89.5,73.5 93.5,74.9 97.5,76.3 101.5,77.7 105.5,79.3 109.5,81.0 113.5,83.1 117.5,84.9 121.5,86.7 125.5,87.6 129.5,88.6 133.5,89.9 137.5,91.1 141.5,92.7 145.5,94.0 149.5,96.1 153.5,98.1 157.5,100.1 161.5,102.0 165.5,104.8 169.5,107.2 173.5,109.3 177.5,111.3 181.5,112.8 185.5,113.9 189.5,115.3 193.5,116.3 197.5,117.8 201.5,119.3 205.5,120.6 209.5,122.7 213.5,124.2 217.5,125.8 221.5,127.3 225.5,128.6 229.5,130.3 233.5,131.6 237.5,134.1 241.5,136.5 245.5,140.0 249.5,143.5 253.5,146.6 257.5,150.0 261.5,153.4 265.5,156.9 269.5,159.8 273.5,163.0 277.5,166.1 281.5,168.6 285.5,170.7 289.5,173.1 293.5,175.9 297.5,178.7 301.5,181.9 305.5,185.3 309.5,189.1 313.5,192.8 317.5,196.4 321.5,199.8 325.5,202.4 329.5,205.0 333.5,207.0 337.5,208.5 341.5,210.3 345.5,212.2 349.5,214.2 353.5,216.0 357.5,218.1 361.5,221.0 365.5,223.1 369.5,225.3 373.5,228.0 377.5,230.0 381.5,232.2 385.5,234.4 389.5,237.8 393.5,240.8 397.5,242.7 401.5,245.0 405.5,247.7 409.5,250.1 413.5,253.1 417.5,256.0 421.5,258.7 425.5,261.2 429.5,263.6 433.5,265.6 437.5,267.7 441.5,270.0 445.5,272.2 449.5,273.8 453.5,275.6 457.5,278.2 461.5,281.1 465.5,284.0 469.5,286.5 473.5,289.6 477.5,292.7 481.5,295.5 485.5,299.0 489.5,302.5 493.5,304.4 497.5,307.1 501.5,309.4 505.5,312.2 509.5,313.7 513.5,315.5 517.5,319.1 521.5,323.0 525.5,326.1 529.5,329.1 533.5,331.9 537.5,334.9 541.5,336.7 545.5,338.3 549.5,339.6 553.5,341.8 557.5,343.8 561.5,345.8 565.5,348.4 569.5,351.4 573.5,355.2 577.5,358.9 581.5,362.7 585.5,366.5 589.5,370.1 593.5,373.4 597.5,375.8 601.5,377.2 605.5,378.3 609.5,379.3 613.5,381.2 617.5,382.8 621.5,385.1 625.5,386.9 629.5,388.8 633.5,390.5 637.5,391.2 641.5,391.4 645.5,391.9 649.5,393.1 653.5,393.9 657.5,394.3 661.5,395.6 665.5,397.3 669.5,399.0 673.5,400.3 677.5,401.6 681.5,404.1 685.5,407.0 689.5,409.2 693.5,410.9 697.5,412.5 701.5,413.4 705.5,414.1 709.5,415.4 713.5,416.5 717.5,417.5 721.5,418.8 725.5,419.8 729.5,420.6 733.5,421.8 737.5,423.2 741.5,424.1 745.5,424.5 749.5,425.0 753.5,425.6 757.5,427.0 761.5,428.0 765.5,429.3 769.5,430.9 773.5,432.3 777.5,433.6 781.5,434.9 785.5,435.6 789.5,436.0 793.5,436.8 797.5,437.7 801.5,437.9 805.5,438.3 809.5,438.8 813.5,439.9 817.5,440.6 821.5,441.5 825.5,443.1 829.5,443.7 833.5,444.0 837.5,444.1 841.5,444.8 845.5,445.2 849.5,445.7 853.5,446.1 857.5,446.5 861.5,446.6 865.5,447.0 869.5,447.2 873.5,447.6 877.5,447.5 881.5,448.0 885.5,447.9 889.5,446.3 893.5,444.9 897.5,443.3 901.5,442.1 905.5,441.2 909.5,440.9 913.5,440.1 917.5,439.2 921.5,437.9 925.5,436.3 929.5,434.6 933.5,432.8 937.5,431.0 941.5,429.2 945.5,427.1 949.5,425.5 953.5,423.9 957.5,422.2 961.5,420.2 965.5,418.7 969.5,416.6 973.5,414.0 977.5,411.5 981.5,409.1 985.5,407.2 989.5,405.4 993.5,403.6 997.5,402.3 1001.5,400.6 1005.5,398.8 1009.5,398.1 1013.5,397.1 1017.5,397.1 1021.5,396.6 1025.5,396.3 1029.5,395.6 1033.5,395.1 1037.5,394.5 1041.5,394.4 1045.5,394.4 1049.5,394.8 1053.5,395.2 1057.5,395.6 1061.5,396.0 1065.5,396.7 1069.5,397.2 1073.5,398.2 1077.5,400.1 1081.5,401.6 1085.5,403.1 1089.5,405.2 1093.5,407.2 1097.5,408.9 1101.5,411.3 1105.5,414.5 1109.5,417.7 1113.5,420.7 1117.5,423.1 1121.5,425.0 1125.5,427.3 1129.5,429.7 1133.5,432.2 1137.5,434.4 1141.5,436.9 1145.5,438.9 1149.5,440.6 1153.5,442.3 1157.5,444.3 1161.5,446.4 1165.5,448.4 1169.5,450.5 1173.5,452.9 1177.5,455.5 1181.5,458.2 1185.5,460.6 1189.5,462.6 1193.5,464.6 1197.5,465.9 1201.5,467.7 1205.5,469.4 1209.5,471.1 1213.5,472.9 1217.5,474.9 1221.5,476.4 1225.5,476.8 1229.5,477.3 1233.5,477.3 1237.5,477.7 1241.5,479.0 1245.5,478.8 1249.5,478.4 1253.5,478.0 1257.5,477.5 1261.5,476.2 1265.5,475.3 1269.5,474.6 1273.5,474.3 1277.5,473.7" fill="none" stroke="#0000ff" stroke-width="1" clip-path="url(#cma)"/>
<polyline points="1.5,60.0 5.5,61.9 9.5,63.1 13.5,64.3 17.5,65.0 21.5,64.5 25.5,63.7 29.5,62.3 33.5,61.0 37.5,60.1 41.5,60.0 45.5,60.0 49.5,60.5 53.5,61.9 57.5,62.4 61.5,64.3 65.5,67.8 69.5,70.4 73.5,73.3 77.5,76.0 81.5,78.8 85.5,82.7 89.5,85.9 93.5,90.2 97.5,93.8 101.5,97.2 105.5,100.7 109.5,104.2 113.5,108.2 117.5,109.2 121.5,109.3 125.5,108.0 129.5,106.5 133.5,107.2 137.5,107.9 141.5,107.8 145.5,107.5 149.5,107.7 153.5,107.7 157.5,108.1 161.5,108.6 165.5,111.1 169.5,112.3 173.5,114.1 177.5,115.2 181.5,118.4 185.5,122.1 189.5,125.0 193.5,127.2 197.5,129.8 201.5,133.0 205.5,135.1 209.5,138.7 213.5,141.8 217.5,144.9 221.5,145.4 225.5,146.6 229.5,149.2 233.5,151.7 237.5,154.9 241.5,157.6 245.5,160.8 249.5,164.7 253.5,168.8 257.5,173.8 261.5,178.1 265.5,180.8 269.5,184.0 273.5,187.3 277.5,191.1 281.5,194.2 285.5,197.6 289.5,201.2 293.5,203.6 297.5,205.7 301.5,208.2 305.5,211.8 309.5,216.1 313.5,218.9 317.5,221.8 321.5,224.9 325.5,226.5 329.5,228.8 333.5,229.5 337.5,230.4 341.5,230.3 345.5,230.4 349.5,231.3 353.5,231.6 357.5,232.4 361.5,234.0 365.5,233.7 369.5,234.4 373.5,236.6 377.5,238.5 381.5,241.9 385.5,243.9 389.5,249.9 393.5,256.5 397.5,260.6 401.5,264.6 405.5,269.4 409.5,274.4 413.5,278.6 417.5,280.8 421.5,284.6 425.5,288.6 429.5,292.3 433.5,295.2 437.5,298.0 441.5,301.2 445.5,300.3 449.5,299.6 453.5,300.1 457.5,301.4 461.5,301.9 465.5,303.0 469.5,302.9 473.5,303.6 477.5,305.1 481.5,307.4 485.5,309.6 489.5,313.4 493.5,315.1 497.5,318.0 501.5,321.6 505.5,326.1 509.5,331.4 513.5,336.4 517.5,341.9 521.5,348.2 525.5,354.3 529.5,358.9 533.5,362.6 537.5,365.2 541.5,365.4 545.5,365.4 549.5,367.7 553.5,369.4 557.5,371.7 561.5,373.1 565.5,374.7 569.5,376.6 573.5,377.4 577.5,378.3 581.5,380.2 585.5,383.1 589.5,384.7 593.5,386.1 597.5,388.9 601.5,390.9 605.5,392.6 609.5,393.9 613.5,395.4 617.5,397.4 621.5,400.2 625.5,402.1 629.5,403.6 633.5,404.1 637.5,403.1 641.5,401.6 645.5,401.1 649.5,401.2 653.5,401.5 657.5,401.9 661.5,402.4 665.5,403.9 669.5,405.7 673.5,406.8 677.5,407.2 681.5,410.1 685.5,413.6 689.5,416.6 693.5,419.6 697.5,423.4 701.5,426.4 705.5,428.1 709.5,430.6 713.5,433.8 717.5,436.0 721.5,436.9 725.5,437.3 729.5,437.5 733.5,438.6 737.5,438.1 741.5,436.9 745.5,434.9 749.5,433.8 753.5,432.3 757.5,432.1 761.5,431.5 765.5,430.9 769.5,431.9 773.5,433.1 777.5,433.6 781.5,434.6 785.5,436.0 789.5,436.1 793.5,436.0 797.5,436.4 801.5,438.9 805.5,442.3 809.5,444.9 813.5,447.3 817.5,450.4 821.5,452.6 825.5,454.2 829.5,455.1 833.5,456.2 837.5,455.8 841.5,456.6 845.5,457.1 849.5,456.6 853.5,456.5 857.5,456.4 861.5,454.6 865.5,452.4 869.5,449.3 873.5,447.4 877.5,444.9 881.5,442.0 885.5,439.9 889.5,436.7 893.5,434.8 897.5,430.3 901.5,427.9 905.5,426.3 909.5,424.9 913.5,422.3 917.5,420.6 921.5,419.4 925.5,419.0 929.5,417.1 933.5,415.9 937.5,414.0 941.5,412.6 945.5,413.1 949.5,413.4 953.5,414.7 957.5,413.3 961.5,411.7 965.5,409.5 969.5,406.3 973.5,402.5 977.5,399.9 981.5,396.4 985.5,393.6 989.5,390.6 993.5,388.6 997.5,387.1 1001.5,385.1 1005.5,382.8 1009.5,381.4 1013.5,380.9 1017.5,380.6 1021.5,380.5 1025.5,382.7 1029.5,385.4 1033.5,387.1 1037.5,389.3 1041.5,391.9 1045.5,395.3 1049.5,398.3 1053.5,400.6 1057.5,403.3 1061.5,406.6 1065.5,410.1 1069.5,413.7 1073.5,417.2 1077.5,420.9 1081.5,423.2 1085.5,425.6 1089.5,427.9 1093.5,429.7 1097.5,431.1 1101.5,432.6 1105.5,435.8 1109.5,438.9 1113.5,442.6 1117.5,445.1 1121.5,445.9 1125.5,447.1 1129.5,448.7 1133.5,449.8 1137.5,450.9 1141.5,453.1 1145.5,454.9 1149.5,456.9 1153.5,458.7 1157.5,460.1 1161.5,460.2 1165.5,461.0 1169.5,462.1 1173.5,464.4 1177.5,468.7 1181.5,472.8 1185.5,476.4 1189.5,478.9 1193.5,481.9 1197.5,483.0 1201.5,485.0 1205.5,487.2 1209.5,489.6 1213.5,491.1 1217.5,492.3 1221.5,492.7 1225.5,492.1 1229.5,491.2 1233.5,489.3 1237.5,487.0 1241.5,485.2 1245.5,481.9 1249.5,478.2 1253.5,475.7 1257.5,471.9 1261.5,467.6 1265.5,463.9 1269.5,460.6 1273.5,457.3 1277.5,454.1" fill="none" stroke="#ff0000" stroke-width="1" clip-path="url(#cma)"/>
<polyline points="1.5,58.4 5.5,57.1 9.5,56.5 13.5,58.9 17.5,63.8 21.5,64.4 25.5,64.5 29.5,63.4 33.5,60.5 37.5,57.6 41.5,58.4 45.5,59.3 49.5,61.2 53.5,63.1 57.5,64.8 61.5,69.3 65.5,78.2 69.5,86.6 73.5,95.7 77.5,102.5 81.5,105.0 85.5,105.0 89.5,103.8 93.5,105.0 97.5,108.3 101.5,110.8 105.5,111.8 109.5,114.3 113.5,115.3 117.5,112.3 121.5,112.1 125.5,107.0 129.5,102.2 133.5,99.6 137.5,101.2 141.5,100.8 145.5,102.5 149.5,108.4 153.5,109.6 157.5,111.4 161.5,114.0 165.5,124.3 169.5,128.1 173.5,130.3 177.5,132.1 181.5,134.3 185.5,133.1 189.5,135.1 193.5,137.9 197.5,141.5 201.5,143.5 205.5,144.9 209.5,148.1 213.5,152.3 217.5,156.3 221.5,159.1 225.5,160.1 229.5,159.7 233.5,159.9 237.5,162.3 241.5,167.1 245.5,174.9 249.5,181.3 253.5,189.3 257.5,196.5 261.5,202.5 265.5,204.1 269.5,206.3 273.5,208.1 277.5,207.7 281.5,205.1 285.5,206.9 289.5,208.1 293.5,207.9 297.5,207.9 301.5,214.1 305.5,220.9 309.5,230.9 313.5,239.5 317.5,247.5 321.5,250.9 325.5,247.5 329.5,243.7 333.5,237.3 337.5,229.1 341.5,221.9 345.5,218.9 349.5,214.9 353.5,213.7 357.5,219.9 361.5,231.3 365.5,240.3 369.5,248.1 373.5,261.5 377.5,267.9 381.5,269.7 385.5,272.1 389.5,280.9 393.5,284.9 397.5,283.7 401.5,282.3 405.5,286.5 409.5,282.1 413.5,281.7 417.5,287.9 421.5,296.3 425.5,301.9 429.5,311.7 433.5,314.5 437.5,317.9 441.5,318.7 445.5,313.5 449.5,305.3 453.5,297.5 457.5,291.9 461.5,288.5 465.5,289.7 469.5,291.1 473.5,297.7 477.5,306.7 481.5,317.3 485.5,330.1 489.5,343.7 493.5,350.1 497.5,354.7 501.5,353.3 505.5,351.7 509.5,348.1 513.5,351.5 517.5,355.5 521.5,364.1 525.5,369.9 529.5,374.5 533.5,380.1 537.5,382.5 541.5,378.3 545.5,374.7 549.5,374.9 553.5,373.7 557.5,371.5 561.5,373.3 565.5,374.3 569.5,376.3 573.5,377.9 577.5,382.5 581.5,389.7 585.5,398.1 589.5,402.9 593.5,406.9 597.5,408.1 601.5,404.5 605.5,401.3 609.5,399.3 613.5,397.3 617.5,396.9 621.5,400.5 625.5,402.9 629.5,405.1 633.5,407.1 637.5,405.7 641.5,402.1 645.5,400.1 649.5,400.3 653.5,400.7 657.5,401.1 661.5,403.3 665.5,407.1 669.5,409.9 673.5,411.7 677.5,415.5 681.5,424.7 685.5,432.5 689.5,437.7 693.5,441.5 697.5,447.5 701.5,445.5 705.5,440.7 709.5,439.9 713.5,440.9 717.5,438.5 721.5,436.5 725.5,435.7 729.5,430.9 733.5,429.1 737.5,430.7 741.5,432.7 745.5,431.1 749.5,431.1 753.5,429.7 757.5,428.7 761.5,425.5 765.5,428.5 769.5,435.7 773.5,440.7 777.5,440.5 781.5,444.5 785.5,445.3 789.5,440.7 793.5,438.9 797.5,440.5 801.5,442.9 805.5,448.7 809.5,454.5 813.5,460.3 817.5,464.7 821.5,467.1 825.5,469.1 829.5,469.3 833.5,465.5 837.5,459.7 841.5,456.3 845.5,448.7 849.5,442.9 853.5,441.3 857.5,444.7 861.5,443.1 865.5,441.5 869.5,439.9 873.5,439.1 877.5,434.7 881.5,433.9 885.5,434.3 889.5,430.3 893.5,424.5 897.5,415.5 901.5,409.1 905.5,404.7 909.5,408.3 913.5,409.7 917.5,416.1 921.5,417.9 925.5,419.5 929.5,417.1 933.5,416.7 937.5,415.3 941.5,415.1 945.5,413.9 949.5,414.3 953.5,412.3 957.5,407.1 961.5,402.3 965.5,398.1 969.5,389.7 973.5,381.9 977.5,380.3 981.5,376.5 985.5,372.7 989.5,372.9 993.5,376.5 997.5,379.5 1001.5,382.5 1005.5,383.9 1009.5,386.3 1013.5,385.5 1017.5,384.1 1021.5,385.1 1025.5,389.5 1029.5,393.1 1033.5,397.7 1037.5,400.7 1041.5,404.7 1045.5,408.1 1049.5,412.7 1053.5,417.1 1057.5,421.7 1061.5,424.9 1065.5,427.7 1069.5,428.7 1073.5,430.7 1077.5,434.3 1081.5,436.1 1085.5,436.5 1089.5,437.5 1093.5,435.7 1097.5,433.3 1101.5,434.3 1105.5,441.3 1109.5,447.9 1113.5,457.7 1117.5,464.3 1121.5,464.9 1125.5,460.5 1129.5,458.1 1133.5,454.5 1137.5,452.3 1141.5,456.7 1145.5,459.1 1149.5,458.7 1153.5,458.3 1157.5,459.9 1161.5,461.3 1165.5,465.1 1169.5,472.1 1173.5,480.3 1177.5,489.1 1181.5,495.7 1185.5,501.3 1189.5,501.5 1193.5,501.3 1197.5,496.7 1201.5,493.3 1205.5,488.9 1209.5,488.3 1213.5,485.5 1217.5,487.3 1221.5,486.7 1225.5,485.7 1229.5,484.9 1233.5,484.1 1237.5,480.9 1241.5,480.3 1245.5,472.9 1249.5,464.9 1253.5,458.7 1257.5,450.9 1261.5,439.7 1265.5,437.9 1269.5,436.1 1273.5,435.7 1277.5,437.1" fill="none" stroke="#ffa500" stroke-width="1"/>
</g>
<rect x="1" y="105" width="1608" height="2" fill="#ff0000"/>
<rect x="1" y="174" width="1608" height="2" fill="#ff0000"/>
<rect x="1" y="253" width="1608" height="2" fill="#ff0000"/>
<rect x="1" y="338" width="1608" height="2" fill="#ff0000"/>
<rect x="1" y="403" width="1608" height="2" fill="#00ff00"/>
<rect x="1" y="477" width="1608" height="2" fill="#0000ff"/>
<rect x="0" y="336" width="6" height="6" fill="#ff0000"/>
<rect x="2" y="338" width="2" height="2" fill="#fff"/>
<rect x="1603" y="336" width="6" height="6" fill="#ff0000"/>
<rect x="1605" y="338" width="2" height="2" fill="#fff"/>
<rect x="0" y="401" width="6" height="6" fill="#00ff00"/>
<rect x="2" y="403" width="2" height="2" fill="#fff"/>
<rect x="1603" y="401" width="6" height="6" fill="#00ff00"/>
<rect x="1605" y="403" width="2" height="2" fill="#fff"/>
<rect x="0" y="475" width="6" height="6" fill="#0000ff"/>
<rect x="2" y="477" width="2" height="2" fill="#fff"/>
<rect x="1603" y="475" width="6" height="6" fill="#0000ff"/>
<rect x="1605" y="477" width="2" height="2" fill="#fff"/>
<g clip-path="url(#cr)">
<line x1="2" y1="552.5" x2="1609" y2="552.5" stroke="#c0c0c0" stroke-width="1" stroke-dasharray="3,3" shape-rendering="crispEdges"/>
<line x1="2" y1="588.5" x2="1609" y2="588.5" stroke="#c0c0c0" stroke-width="1" stroke-dasharray="3,3" shape-rendering="crispEdges"/>
<polyline points="1.5,575.7 5.5,576.7 9.5,577.3 13.5,581.7 17.5,581.8 21.5,574.8 25.5,574.8 29.5,571.5 33.5,571.5 37.5,572.2 41.5,577.1 45.5,577.4 49.5,577.4 53.5,577.5 57.5,577.6 61.5,589.4 65.5,596.1 69.5,593.7 73.5,594.7 77.5,585.8 81.5,585.8 85.5,589.3 89.5,583.1 93.5,588.3 97.5,587.6 101.5,584.8 105.5,585.9 109.5,585.1 113.5,588.1 117.5,574.6 121.5,578.7 125.5,568.7 129.5,569.2 133.5,576.4 137.5,576.4 141.5,576.4 145.5,571.0 149.5,579.2 153.5,576.9 157.5,577.9 161.5,579.3 165.5,587.0 169.5,582.2 173.5,576.6 177.5,576.9 181.5,578.9 185.5,581.8 189.5,583.5 193.5,579.2 197.5,580.7 201.5,579.7 205.5,582.0 209.5,586.3 213.5,584.2 217.5,585.3 221.5,580.9 225.5,579.8 229.5,582.6 233.5,582.0 237.5,586.8 241.5,587.9 245.5,591.3 249.5,591.5 253.5,593.2 257.5,595.5 261.5,594.1 265.5,588.0 269.5,589.1 273.5,590.5 277.5,590.5 281.5,581.6 285.5,586.0 289.5,586.3 293.5,584.9 297.5,585.3 301.5,590.9 305.5,594.6 309.5,597.7 313.5,592.1 317.5,590.9 321.5,587.8 325.5,578.3 329.5,582.8 333.5,573.6 337.5,569.8 341.5,569.8 345.5,570.9 349.5,574.5 353.5,571.3 357.5,579.5 361.5,585.5 365.5,582.0 369.5,582.9 373.5,587.1 377.5,583.5 381.5,584.1 385.5,581.7 389.5,588.9 393.5,587.3 397.5,575.5 401.5,576.0 405.5,580.8 409.5,578.6 413.5,581.9 417.5,581.2 421.5,583.8 425.5,585.4 429.5,587.9 433.5,581.1 437.5,581.3 441.5,581.3 445.5,573.8 449.5,573.4 453.5,568.3 457.5,571.9 461.5,574.9 465.5,575.2 469.5,575.2 473.5,577.8 477.5,583.8 481.5,587.6 485.5,589.7 489.5,590.4 493.5,580.0 497.5,583.1 501.5,579.4 505.5,581.7 509.5,579.6 513.5,581.4 517.5,585.1 521.5,587.3 525.5,586.1 529.5,581.5 533.5,584.3 537.5,584.7 541.5,577.0 545.5,577.0 549.5,578.8 553.5,580.4 557.5,579.2 561.5,578.7 565.5,577.0 569.5,580.7 573.5,581.9 577.5,585.2 581.5,588.1 585.5,588.5 589.5,585.3 593.5,585.3 597.5,584.1 601.5,577.5 605.5,579.0 609.5,579.0 613.5,579.0 617.5,581.5 621.5,584.5 625.5,583.1 629.5,582.4 633.5,581.6 637.5,574.1 641.5,572.2 645.5,575.5 649.5,580.3 653.5,580.3 657.5,573.0 661.5,576.1 665.5,582.2 669.5,584.0 673.5,580.7 677.5,580.0 681.5,590.7 685.5,592.3 689.5,587.4 693.5,580.8 697.5,583.8 701.5,580.3 705.5,576.9 709.5,580.8 713.5,579.3 717.5,575.9 721.5,573.6 725.5,573.1 729.5,569.4 733.5,574.6 737.5,578.3 741.5,576.8 745.5,568.4 749.5,568.4 753.5,570.6 757.5,575.6 761.5,569.5 765.5,574.1 769.5,580.7 773.5,578.1 777.5,572.6 781.5,574.9 785.5,573.3 789.5,571.0 793.5,573.9 797.5,575.0 801.5,578.7 805.5,582.6 809.5,579.8 813.5,582.2 817.5,580.2 821.5,580.5 825.5,584.0 829.5,576.6 833.5,571.5 837.5,566.5 841.5,571.3 845.5,567.9 849.5,565.9 853.5,569.4 857.5,573.3 861.5,568.9 865.5,565.7 869.5,563.8 873.5,568.9 877.5,566.5 881.5,568.8 885.5,567.4 889.5,559.1 893.5,560.8 897.5,555.4 901.5,562.6 905.5,564.7 909.5,568.7 913.5,566.7 917.5,567.4 921.5,566.1 925.5,568.0 929.5,565.4 933.5,566.6 937.5,565.5 941.5,566.4 945.5,566.4 949.5,566.4 953.5,562.7 957.5,556.2 961.5,558.5 965.5,560.1 969.5,553.8 973.5,552.3 977.5,558.8 981.5,556.8 985.5,558.4 989.5,558.1 993.5,564.0 997.5,568.3 1001.5,565.5 1005.5,563.6 1009.5,565.6 1013.5,563.6 1017.5,566.8 1021.5,569.3 1025.5,574.8 1029.5,574.8 1033.5,574.8 1037.5,573.6 1041.5,578.4 1045.5,582.1 1049.5,584.4 1053.5,583.7 1057.5,582.9 1061.5,584.2 1065.5,587.0 1069.5,584.6 1073.5,586.3 1077.5,589.0 1081.5,584.0 1085.5,584.0 1089.5,584.0 1093.5,575.7 1097.5,578.0 1101.5,583.4 1105.5,593.0 1109.5,591.6 1113.5,593.1 1117.5,585.0 1121.5,574.9 1125.5,576.7 1129.5,579.6 1133.5,579.6 1137.5,576.8 1141.5,582.0 1145.5,579.2 1149.5,576.1 1153.5,576.1 1157.5,578.2 1161.5,583.1 1165.5,585.4 1169.5,588.3 1173.5,589.9 1177.5,591.9 1181.5,592.4 1185.5,592.9 1189.5,581.7 1193.5,583.1 1197.5,575.4 1201.5,578.5 1205.5,576.9 1209.5,577.7 1213.5,573.9 1217.5,577.7 1221.5,575.5 1225.5,572.8 1229.5,574.3 1233.5,570.5 1237.5,568.9 1241.5,573.6 1245.5,558.3 1249.5,558.3 1253.5,559.3 1257.5,556.0 1261.5,553.8 1265.5,558.2 1269.5,558.2 1273.5,563.2 1277.5,562.4" fill="none" stroke="#1e90ff" stroke-width="1"/>
</g>
<g clip-path="url(#cd)">
<rect x="1" y="653" width="1" height="14" fill="#c0c0c0"/>
<rect x="5" y="653" width="1" height="14" fill="#c0c0c0"/>
<rect x="9" y="653" width="1" height="14" fill="#c0c0c0"/>
<rect x="13" y="653" width="1" height="15" fill="#c0c0c0"/>
<rect x="17" y="653" width="1" height="16" fill="#c0c0c0"/>
<rect x="21" y="653" width="1" height="14" fill="#c0c0c0"/>
<rect x="25" y="653" width="1" height="13" fill="#c0c0c0"/>
<rect x="29" y="653" width="1" height="11" fill="#c0c0c0"/>
<rect x="33" y="653" width="1" height="10" fill="#c0c0c0"/>
<rect x="37" y="653" width="1" height="8" fill="#c0c0c0"/>
<rect x="41" y="653" width="1" height="9" fill="#c0c0c0"/>
<rect x="45" y="653" width="1" height="9" fill="#c0c0c0"/>
<rect x="49" y="653" width="1" height="9" fill="#c0c0c0"/>
<rect x="53" y="653" width="1" height="9" fill="#c0c0c0"/>
<rect x="57" y="653" width="1" height="9" fill="#c0c0c0"/>
<rect x="61" y="653" width="1" height="12" fill="#c0c0c0"/>
<rect x="65" y="653" width="1" height="19" fill="#c0c0c0"/>
<rect x="69" y="653" width="1" height="23" fill="#c0c0c0"/>
<rect x="73" y="653" width="1" height="27" fill="#c0c0c0"/>
<rect x="77" y="653" width="1" height="28" fill="#c0c0c0"/>
<rect x="81" y="653" width="1" height="28" fill="#c0c0c0"/>
<rect x="85" y="653" width="1" height="30" fill="#c0c0c0"/>
<rect x="89" y="653" width="1" height="29" fill="#c0c0c0"/>
<rect x="93" y="653" width="1" height="31" fill="#c0c0c0"/>
<rect x="97" y="653" width="1" height="32" fill="#c0c0c0"/>
<rect x="101" y="653" width="1" height="32" fill="#c0c0c0"/>
<rect x="105" y="653" width="1" height="32" fill="#c0c0c0"/>
<rect x="109" y="653" width="1" height="31" fill="#c0c0c0"/>
<rect x="113" y="653" width="1" height="32" fill="#c0c0c0"/>
<rect x="117" y="653" width="1" height="28" fill="#c0c0c0"/>
<rect x="121" y="653" width="1" height="27" fill="#c0c0c0"/>
<rect x="125" y="653" width="1" height="22" fill="#c0c0c0"/>
<rect x="129" y="653" width="1" height="18" fill="#c0c0c0"/>
<rect x="133" y="653" width="1" height="18" fill="#c0c0c0"/>
<rect x="137" y="653" width="1" height="17" fill="#c0c0c0"/>
<rect x="141" y="653" width="1" height="17" fill="#c0c0c0"/>
<rect x="145" y="653" width="1" height="14" fill="#c0c0c0"/>
<rect x="149" y="653" width="1" height="16" fill="#c0c0c0"/>
<rect x="153" y="653" width="1" height="16" fill="#c0c0c0"/>
<rect x="157" y="653" width="1" height="17" fill="#c0c0c0"/>
<rect x="161" y="653" width="1" height="18" fill="#c0c0c0"/>
<rect x="165" y="653" width="1" height="23" fill="#c0c0c0"/>
<rect x="169" y="653" width="1" height="25" fill="#c0c0c0"/>
<rect x="173" y="653" width="1" height="24" fill="#c0c0c0"/>
<rect x="177" y="653" width="1" height="23" fill="#c0c0c0"/>
<rect x="181" y="653" width="1" height="24" fill="#c0c0c0"/>
<rect x="185" y="653" width="1" height="25" fill="#c0c0c0"/>
<rect x="189" y="653" width="1" height="27" fill="#c0c0c0"/>
<rect x="193" y="653" width="1" height="27" fill="#c0c0c0"/>
<rect x="197" y="653" width="1" height="27" fill="#c0c0c0"/>
<rect x="201" y="653" width="1" height="27" fill="#c0c0c0"/>
<rect x="205" y="653" width="1" height="27" fill="#c0c0c0"/>
<rect x="209" y="653" width="1" height="30" fill="#c0c0c0"/>
<rect x="213" y="653" width="1" height="31" fill="#c0c0c0"/>
<rect x="217" y="653" width="1" height="32" fill="#c0c0c0"/>
<rect x="221" y="653" width="1" height="31" fill="#c0c0c0"/>
<rect x="225" y="653" width="1" height="30" fill="#c0c0c0"/>
<rect x="229" y="653" width="1" height="30" fill="#c0c0c0"/>
<rect x="233" y="653" width="1" height="30" fill="#c0c0c0"/>
<rect x="237" y="653" width="1" height="31" fill="#c0c0c0"/>
<rect x="241" y="653" width="1" height="33" fill="#c0c0c0"/>
<rect x="245" y="653" width="1" height="36" fill="#c0c0c0"/>
<rect x="249" y="653" width="1" height="39" fill="#c0c0c0"/>
<rect x="253" y="653" width="1" height="41" fill="#c0c0c0"/>
<rect x="257" y="653" width="1" height="45" fill="#c0c0c0"/>
<rect x="261" y="653" width="1" height="46" fill="#c0c0c0"/>
<rect x="265" y="653" width="1" height="46" fill="#c0c0c0"/>
<rect x="269" y="653" width="1" height="45" fill="#c0c0c0"/>
<rect x="273" y="653" width="1" height="46" fill="#c0c0c0"/>
<rect x="277" y="653" width="1" height="45" fill="#c0c0c0"/>
<rect x="281" y="653" width="1" height="42" fill="#c0c0c0"/>
<rect x="285" y="653" width="1" height="41" fill="#c0c0c0"/>
<rect x="289" y="653" width="1" height="40" fill="#c0c0c0"/>
<rect x="293" y="653" width="1" height="39" fill="#c0c0c0"/>
<rect x="297" y="653" width="1" height="38" fill="#c0c0c0"/>
<rect x="301" y="653" width="1" height="39" fill="#c0c0c0"/>
<rect x="305" y="653" width="1" height="43" fill="#c0c0c0"/>
<rect x="309" y="653" width="1" height="48" fill="#c0c0c0"/>
<rect x="313" y="653" width="1" height="50" fill="#c0c0c0"/>
<rect x="317" y="653" width="1" height="50" fill="#c0c0c0"/>
<rect x="321" y="653" width="1" height="50" fill="#c0c0c0"/>
<rect x="325" y="653" width="1" height="45" fill="#c0c0c0"/>
<rect x="329" y="653" width="1" height="44" fill="#c0c0c0"/>
<rect x="333" y="653" width="1" height="38" fill="#c0c0c0"/>
<rect x="337" y="653" width="1" height="32" fill="#c0c0c0"/>
<rect x="341" y="653" width="1" height="26" fill="#c0c0c0"/>
<rect x="345" y="653" width="1" height="22" fill="#c0c0c0"/>
<rect x="349" y="653" width="1" height="21" fill="#c0c0c0"/>
<rect x="353" y="653" width="1" height="18" fill="#c0c0c0"/>
<rect x="357" y="653" width="1" height="20" fill="#c0c0c0"/>
<rect x="361" y="653" width="1" height="25" fill="#c0c0c0"/>
<rect x="365" y="653" width="1" height="28" fill="#c0c0c0"/>
<rect x="369" y="653" width="1" height="31" fill="#c0c0c0"/>
<rect x="373" y="653" width="1" height="36" fill="#c0c0c0"/>
<rect x="377" y="653" width="1" height="38" fill="#c0c0c0"/>
<rect x="381" y="653" width="1" height="39" fill="#c0c0c0"/>
<rect x="385" y="653" width="1" height="39" fill="#c0c0c0"/>
<rect x="389" y="653" width="1" height="45" fill="#c0c0c0"/>
<rect x="393" y="653" width="1" height="48" fill="#c0c0c0"/>
<rect x="397" y="653" width="1" height="44" fill="#c0c0c0"/>
<rect x="401" y="653" width="1" height="40" fill="#c0c0c0"/>
<rect x="405" y="653" width="1" height="41" fill="#c0c0c0"/>
<rect x="409" y="653" width="1" height="40" fill="#c0c0c0"/>
<rect x="413" y="653" width="1" height="41" fill="#c0c0c0"/>
<rect x="417" y="653" width="1" height="42" fill="#c0c0c0"/>
<rect x="421" y="653" width="1" height="44" fill="#c0c0c0"/>
<rect x="425" y="653" width="1" height="46" fill="#c0c0c0"/>
<rect x="429" y="653" width="1" height="50" fill="#c0c0c0"/>
<rect x="433" y="653" width="1" height="49" fill="#c0c0c0"/>
<rect x="437" y="653" width="1" height="48" fill="#c0c0c0"/>
<rect x="441" y="653" width="1" height="47" fill="#c0c0c0"/>
<rect x="445" y="653" width="1" height="41" fill="#c0c0c0"/>
<rect x="449" y="653" width="1" height="36" fill="#c0c0c0"/>
<rect x="453" y="653" width="1" height="29" fill="#c0c0c0"/>
<rect x="457" y="653" width="1" height="25" fill="#c0c0c0"/>
<rect x="461" y="653" width="1" height="24" fill="#c0c0c0"/>
<rect x="465" y="653" width="1" height="23" fill="#c0c0c0"/>
<rect x="469" y="653" width="1" height="21" fill="#c0c0c0"/>
<rect x="473" y="653" width="1" height="22" fill="#c0c0c0"/>
<rect x="477" y="653" width="1" height="26" fill="#c0c0c0"/>
<rect x="481" y="653" width="1" height="32" fill="#c0c0c0"/>
<rect x="485" y="653" width="1" height="39" fill="#c0c0c0"/>
<rect x="489" y="653" width="1" height="44" fill="#c0c0c0"/>
<rect x="493" y="653" width="1" height="43" fill="#c0c0c0"/>
<rect x="497" y="653" width="1" height="45" fill="#c0c0c0"/>
<rect x="501" y="653" width="1" height="43" fill="#c0c0c0"/>
<rect x="505" y="653" width="1" height="44" fill="#c0c0c0"/>
<rect x="509" y="653" width="1" height="42" fill="#c0c0c0"/>
<rect x="513" y="653" width="1" height="42" fill="#c0c0c0"/>
<rect x="517" y="653" width="1" height="45" fill="#c0c0c0"/>
<rect x="521" y="653" width="1" height="48" fill="#c0c0c0"/>
<rect x="525" y="653" width="1" height="50" fill="#c0c0c0"/>
<rect x="529" y="653" width="1" height="49" fill="#c0c0c0"/>
<rect x="533" y="653" width="1" height="49" fill="#c0c0c0"/>
<rect x="537" y="653" width="1" height="50" fill="#c0c0c0"/>
<rect x="541" y="653" width="1" height="46" fill="#c0c0c0"/>
<rect x="545" y="653" width="1" height="42" fill="#c0c0c0"/>
<rect x="549" y="653" width="1" height="40" fill="#c0c0c0"/>
<rect x="553" y="653" width="1" height="39" fill="#c0c0c0"/>
<rect x="557" y="653" width="1" height="37" fill="#c0c0c0"/>
<rect x="561" y="653" width="1" height="35" fill="#c0c0c0"/>
<rect x="565" y="653" width="1" height="33" fill="#c0c0c0"/>
<rect x="569" y="653" width="1" height="32" fill="#c0c0c0"/>
<rect x="573" y="653" width="1" height="32" fill="#c0c0c0"/>
<rect x="577" y="653" width="1" height="34" fill="#c0c0c0"/>
<rect x="581" y="653" width="1" height="37" fill="#c0c0c0"/>
<rect x="585" y="653" width="1" height="39" fill="#c0c0c0"/>
<rect x="589" y="653" width="1" height="39" fill="#c0c0c0"/>
<rect x="593" y="653" width="1" height="39" fill="#c0c0c0"/>
<rect x="597" y="653" width="1" height="38" fill="#c0c0c0"/>
<rect x="601" y="653" width="1" height="35" fill="#c0c0c0"/>
<rect x="605" y="653" width="1" height="33" fill="#c0c0c0"/>
<rect x="609" y="653" width="1" height="31" fill="#c0c0c0"/>
<rect x="613" y="653" width="1" height="29" fill="#c0c0c0"/>
<rect x="617" y="653" width="1" height="28" fill="#c0c0c0"/>
<rect x="621" y="653" width="1" height="28" fill="#c0c0c0"/>
<rect x="625" y="653" width="1" height="28" fill="#c0c0c0"/>
<rect x="629" y="653" width="1" height="27" fill="#c0c0c0"/>
<rect x="633" y="653" width="1" height="26" fill="#c0c0c0"/>
<rect x="637" y="653" width="1" height="23" fill="#c0c0c0"/>
<rect x="641" y="653" width="1" height="20" fill="#c0c0c0"/>
<rect x="645" y="653" width="1" height="18" fill="#c0c0c0"/>
<rect x="649" y="653" width="1" height="18" fill="#c0c0c0"/>
<rect x="653" y="653" width="1" height="18" fill="#c0c0c0"/>
<rect x="657" y="653" width="1" height="16" fill="#c0c0c0"/>
<rect x="661" y="653" width="1" height="15" fill="#c0c0c0"/>
<rect x="665" y="653" width="1" height="17" fill="#c0c0c0"/>
<rect x="669" y="653" width="1" height="19" fill="#c0c0c0"/>
<rect x="673" y="653" width="1" height="19" fill="#c0c0c0"/>
<rect x="677" y="653" width="1" height="19" fill="#c0c0c0"/>
<rect x="681" y="653" width="1" height="24" fill="#c0c0c0"/>
<rect x="685" y="653" width="1" height="30" fill="#c0c0c0"/>
<rect x="689" y="653" width="1" height="32" fill="#c0c0c0"/>
<rect x="693" y="653" width="1" height="31" fill="#c0c0c0"/>
<rect x="697" y="653" width="1" height="32" fill="#c0c0c0"/>
<rect x="701" y="653" width="1" height="31" fill="#c0c0c0"/>
<rect x="705" y="653" width="1" height="29" fill="#c0c0c0"/>
<rect x="709" y="653" width="1" height="29" fill="#c0c0c0"/>
<rect x="713" y="653" width="1" height="28" fill="#c0c0c0"/>
<rect x="717" y="653" width="1" height="26" fill="#c0c0c0"/>
<rect x="721" y="653" width="1" height="23" fill="#c0c0c0"/>
<rect x="725" y="653" width="1" height="20" fill="#c0c0c0"/>
<rect x="729" y="653" width="1" height="17" fill="#c0c0c0"/>
<rect x="733" y="653" width="1" height="16" fill="#c0c0c0"/>
<rect x="737" y="653" width="1" height="16" fill="#c0c0c0"/>
<rect x="741" y="653" width="1" height="16" fill="#c0c0c0"/>
<rect x="745" y="653" width="1" height="13" fill="#c0c0c0"/>
<rect x="749" y="653" width="1" height="10" fill="#c0c0c0"/>
<rect x="753" y="653" width="1" height="8" fill="#c0c0c0"/>
<rect x="757" y="653" width="1" height="9" fill="#c0c0c0"/>
<rect x="761" y="653" width="1" height="7" fill="#c0c0c0"/>
<rect x="765" y="653" width="1" height="8" fill="#c0c0c0"/>
<rect x="769" y="653" width="1" height="11" fill="#c0c0c0"/>
<rect x="773" y="653" width="1" height="13" fill="#c0c0c0"/>
<rect x="777" y="653" width="1" height="12" fill="#c0c0c0"/>
<rect x="781" y="653" width="1" height="12" fill="#c0c0c0"/>
<rect x="785" y="653" width="1" height="12" fill="#c0c0c0"/>
<rect x="789" y="653" width="1" height="10" fill="#c0c0c0"/>
<rect x="793" y="653" width="1" height="10" fill="#c0c0c0"/>
<rect x="797" y="653" width="1" height="10" fill="#c0c0c0"/>
<rect x="801" y="653" width="1" height="12" fill="#c0c0c0"/>
<rect x="805" y="653" width="1" height="16" fill="#c0c0c0"/>
<rect x="809" y="653" width="1" height="18" fill="#c0c0c0"/>
<rect x="813" y="653" width="1" height="20" fill="#c0c0c0"/>
<rect x="817" y="653" width="1" height="21" fill="#c0c0c0"/>
<rect x="821" y="653" width="1" height="22" fill="#c0c0c0"/>
<rect x="825" y="653" width="1" height="24" fill="#c0c0c0"/>
<rect x="829" y="653" width="1" height="23" fill="#c0c0c0"/>
<rect x="833" y="653" width="1" height="20" fill="#c0c0c0"/>
<rect x="837" y="653" width="1" height="15" fill="#c0c0c0"/>
<rect x="841" y="653" width="1" height="13" fill="#c0c0c0"/>
<rect x="845" y="653" width="1" height="9" fill="#c0c0c0"/>
<rect x="849" y="653" width="1" height="6" fill="#c0c0c0"/>
<rect x="853" y="653" width="1" height="4" fill="#c0c0c0"/>
<rect x="857" y="653" width="1" height="5" fill="#c0c0c0"/>
<rect x="861" y="653" width="1" height="3" fill="#c0c0c0"/>
<rect x="865" y="653" width="1" height="1" fill="#c0c0c0"/>
<rect x="869" y="650" width="1" height="4" fill="#c0c0c0"/>
<rect x="873" y="649" width="1" height="5" fill="#c0c0c0"/>
<rect x="877" y="648" width="1" height="6" fill="#c0c0c0"/>
<rect x="881" y="648" width="1" height="6" fill="#c0c0c0"/>
<rect x="885" y="647" width="1" height="7" fill="#c0c0c0"/>
<rect x="889" y="642" width="1" height="12" fill="#c0c0c0"/>
<rect x="893" y="639" width="1" height="15" fill="#c0c0c0"/>
<rect x="897" y="632" width="1" height="22" fill="#c0c0c0"/>
<rect x="901" y="631" width="1" height="23" fill="#c0c0c0"/>
<rect x="905" y="631" width="1" height="23" fill="#c0c0c0"/>
<rect x="909" y="633" width="1" height="21" fill="#c0c0c0"/>
<rect x="913" y="634" width="1" height="20" fill="#c0c0c0"/>
<rect x="917" y="635" width="1" height="19" fill="#c0c0c0"/>
<rect x="921" y="636" width="1" height="18" fill="#c0c0c0"/>
<rect x="925" y="637" width="1" height="17" fill="#c0c0c0"/>
<rect x="929" y="637" width="1" height="17" fill="#c0c0c0"/>
<rect x="933" y="638" width="1" height="16" fill="#c0c0c0"/>
<rect x="937" y="638" width="1" height="16" fill="#c0c0c0"/>
<rect x="941" y="639" width="1" height="15" fill="#c0c0c0"/>
<rect x="945" y="639" width="1" height="15" fill="#c0c0c0"/>
<rect x="949" y="640" width="1" height="14" fill="#c0c0c0"/>
<rect x="953" y="639" width="1" height="15" fill="#c0c0c0"/>
<rect x="957" y="635" width="1" height="19" fill="#c0c0c0"/>
<rect x="961" y="633" width="1" height="21" fill="#c0c0c0"/>
<rect x="965" y="632" width="1" height="22" fill="#c0c0c0"/>
<rect x="969" y="628" width="1" height="26" fill="#c0c0c0"/>
<rect x="973" y="624" width="1" height="30" fill="#c0c0c0"/>
<rect x="977" y="624" width="1" height="30" fill="#c0c0c0"/>
<rect x="981" y="622" width="1" height="32" fill="#c0c0c0"/>
<rect x="985" y="622" width="1" height="32" fill="#c0c0c0"/>
<rect x="989" y="622" width="1" height="32" fill="#c0c0c0"/>
<rect x="993" y="624" width="1" height="30" fill="#c0c0c0"/>
<rect x="997" y="628" width="1" height="26" fill="#c0c0c0"/>
<rect x="1001" y="630" width="1" height="24" fill="#c0c0c0"/>
<rect x="1005" y="631" width="1" height="23" fill="#c0c0c0"/>
<rect x="1009" y="632" width="1" height="22" fill="#c0c0c0"/>
<rect x="1013" y="633" width="1" height="21" fill="#c0c0c0"/>
<rect x="1017" y="635" width="1" height="19" fill="#c0c0c0"/>
<rect x="1021" y="637" width="1" height="17" fill="#c0c0c0"/>
<rect x="1025" y="642" width="1" height="12" fill="#c0c0c0"/>
<rect x="1029" y="645" width="1" height="9" fill="#c0c0c0"/>
<rect x="1033" y="648" width="1" height="6" fill="#c0c0c0"/>
<rect x="1037" y="650" width="1" height="4" fill="#c0c0c0"/>
<rect x="1041" y="653" width="1" height="1" fill="#c0c0c0"/>
<rect x="1045" y="653" width="1" height="4" fill="#c0c0c0"/>
<rect x="1049" y="653" width="1" height="8" fill="#c0c0c0"/>
<rect x="1053" y="653" width="1" height="11" fill="#c0c0c0"/>
<rect x="1057" y="653" width="1" height="13" fill="#c0c0c0"/>
<rect x="1061" y="653" width="1" height="15" fill="#c0c0c0"/>
<rect x="1065" y="653" width="1" height="18" fill="#c0c0c0"/>
<rect x="1069" y="653" width="1" height="19" fill="#c0c0c0"/>
<rect x="1073" y="653" width="1" height="20" fill="#c0c0c0"/>
<rect x="1077" y="653" width="1" height="23" fill="#c0c0c0"/>
<rect x="1081" y="653" width="1" height="23" fill="#c0c0c0"/>
<rect x="1085" y="653" width="1" height="23" fill="#c0c0c0"/>
<rect x="1089" y="653" width="1" height="23" fill="#c0c0c0"/>
<rect x="1093" y="653" width="1" height="21" fill="#c0c0c0"/>
<rect x="1097" y="653" width="1" height="19" fill="#c0c0c0"/>
<rect x="1101" y="653" width="1" height="20" fill="#c0c0c0"/>
<rect x="1105" y="653" width="1" height="26" fill="#c0c0c0"/>
<rect x="1109" y="653" width="1" height="29" fill="#c0c0c0"/>
<rect x="1113" y="653" width="1" height="33" fill="#c0c0c0"/>
<rect x="1117" y="653" width="1" height="33" fill="#c0c0c0"/>
<rect x="1121" y="653" width="1" height="30" fill="#c0c0c0"/>
<rect x="1125" y="653" width="1" height="28" fill="#c0c0c0"/>
<rect x="1129" y="653" width="1" height="27" fill="#c0c0c0"/>
<rect x="1133" y="653" width="1" height="26" fill="#c0c0c0"/>
<rect x="1137" y="653" width="1" height="25" fill="#c0c0c0"/>
<rect x="1141" y="653" width="1" height="25" fill="#c0c0c0"/>
<rect x="1145" y="653" width="1" height="25" fill="#c0c0c0"/>
<rect x="1149" y="653" width="1" height="23" fill="#c0c0c0"/>
<rect x="1153" y="653" width="1" height="21" fill="#c0c0c0"/>
<rect x="1157" y="653" width="1" height="21" fill="#c0c0c0"/>
<rect x="1161" y="653" width="1" height="22" fill="#c0c0c0"/>
<rect x="1165" y="653" width="1" height="24" fill="#c0c0c0"/>
<rect x="1169" y="653" width="1" height="27" fill="#c0c0c0"/>
<rect x="1173" y="653" width="1" height="30" fill="#c0c0c0"/>
<rect x="1177" y="653" width="1" height="34" fill="#c0c0c0"/>
<rect x="1181" y="653" width="1" height="37" fill="#c0c0c0"/>
<rect x="1185" y="653" width="1" height="39" fill="#c0c0c0"/>
<rect x="1189" y="653" width="1" height="37" fill="#c0c0c0"/>
<rect x="1193" y="653" width="1" height="36" fill="#c0c0c0"/>
<rect x="1197" y="653" width="1" height="32" fill="#c0c0c0"/>
<rect x="1201" y="653" width="1" height="30" fill="#c0c0c0"/>
<rect x="1205" y="653" width="1" height="28" fill="#c0c0c0"/>
<rect x="1209" y="653" width="1" height="26" fill="#c0c0c0"/>
<rect x="1213" y="653" width="1" height="23" fill="#c0c0c0"/>
<rect x="1217" y="653" width="1" height="22" fill="#c0c0c0"/>
<rect x="1221" y="653" width="1" height="20" fill="#c0c0c0"/>
<rect x="1225" y="653" width="1" height="18" fill="#c0c0c0"/>
<rect x="1229" y="653" width="1" height="16" fill="#c0c0c0"/>
<rect x="1233" y="653" width="1" height="14" fill="#c0c0c0"/>
<rect x="1237" y="653" width="1" height="11" fill="#c0c0c0"/>
<rect x="1241" y="653" width="1" height="10" fill="#c0c0c0"/>
<rect x="1245" y="653" width="1" height="3" fill="#c0c0c0"/>
<rect x="1249" y="650" width="1" height="4" fill="#c0c0c0"/>
<rect x="1253" y="646" width="1" height="8" fill="#c0c0c0"/>
<rect x="1257" y="641" width="1" height="13" fill="#c0c0c0"/>
<rect x="1261" y="636" width="1" height="18" fill="#c0c0c0"/>
<rect x="1265" y="633" width="1" height="21" fill="#c0c0c0"/>
<rect x="1269" y="631" width="1" height="23" fill="#c0c0c0"/>
<rect x="1273" y="632" width="1" height="22" fill="#c0c0c0"/>
<rect x="1277" y="632" width="1" height="22" fill="#c0c0c0"/>
<polyline points="1.5,670.4 5.5,670.8 9.5,670.6 13.5,670.2 17.5,669.8 21.5,669.1 25.5,668.4 29.5,667.6 33.5,666.9 37.5,666.3 41.5,665.7 45.5,665.2 49.5,664.5 53.5,663.8 57.5,663.2 61.5,663.1 65.5,664.0 69.5,665.5 73.5,667.6 77.5,669.7 81.5,671.9 85.5,674.2 89.5,676.5 93.5,679.0 97.5,681.2 101.5,682.7 105.5,683.6 109.5,684.1 113.5,684.5 117.5,684.5 121.5,684.2 125.5,683.4 129.5,681.9 133.5,680.3 137.5,678.6 141.5,676.9 145.5,675.0 149.5,673.3 153.5,671.9 157.5,670.8 161.5,670.3 165.5,670.9 169.5,671.7 173.5,672.5 177.5,673.2 181.5,674.2 185.5,675.2 189.5,676.4 193.5,677.5 197.5,678.5 201.5,678.9 205.5,679.1 209.5,679.8 213.5,680.6 217.5,681.6 221.5,682.3 225.5,682.6 229.5,683.0 233.5,683.3 237.5,683.8 241.5,684.4 245.5,685.2 249.5,686.0 253.5,687.0 257.5,688.5 261.5,690.3 265.5,692.1 269.5,693.8 273.5,695.4 277.5,696.7 281.5,697.4 285.5,697.7 289.5,697.6 293.5,697.0 297.5,696.0 301.5,695.2 305.5,694.9 309.5,695.2 313.5,695.7 317.5,696.7 321.5,697.6 325.5,698.1 329.5,698.6 333.5,698.7 337.5,697.9 341.5,696.1 345.5,693.3 349.5,690.0 353.5,686.4 357.5,683.0 361.5,680.8 365.5,679.1 369.5,678.2 373.5,678.6 377.5,679.9 381.5,681.7 385.5,683.8 389.5,686.7 393.5,689.9 397.5,691.9 401.5,693.3 405.5,694.4 409.5,694.9 413.5,695.4 417.5,695.6 421.5,696.1 425.5,696.3 429.5,696.6 433.5,697.1 437.5,698.0 441.5,698.6 445.5,698.7 449.5,698.2 453.5,696.8 457.5,694.7 461.5,692.3 465.5,689.3 469.5,686.2 473.5,683.3 477.5,681.0 481.5,680.0 485.5,680.3 489.5,681.9 493.5,683.9 497.5,686.2 501.5,688.5 505.5,691.0 509.5,693.2 513.5,695.1 517.5,696.5 521.5,697.5 525.5,698.2 529.5,698.8 533.5,699.3 537.5,700.1 541.5,700.3 545.5,700.3 549.5,700.1 553.5,699.4 557.5,698.2 561.5,696.5 565.5,694.7 569.5,692.8 573.5,690.8 577.5,689.5 581.5,688.9 585.5,688.8 589.5,688.9 593.5,689.1 597.5,689.5 601.5,689.7 605.5,689.8 609.5,689.6 613.5,689.1 617.5,688.0 621.5,686.8 625.5,685.5 629.5,684.2 633.5,682.8 637.5,681.4 641.5,680.0 645.5,678.6 649.5,677.4 653.5,676.3 657.5,675.0 661.5,673.6 665.5,672.5 669.5,671.7 673.5,671.3 677.5,671.2 681.5,671.9 685.5,673.2 689.5,674.7 693.5,676.4 697.5,678.3 701.5,679.9 705.5,681.1 709.5,682.2 713.5,683.2 717.5,683.4 721.5,682.7 725.5,681.4 729.5,679.8 733.5,677.9 737.5,676.3 741.5,674.8 745.5,673.0 749.5,671.0 753.5,669.0 757.5,667.4 761.5,665.9 765.5,664.9 769.5,664.4 773.5,664.1 777.5,663.7 781.5,663.6 785.5,663.9 789.5,664.1 793.5,664.2 797.5,664.6 801.5,665.1 805.5,665.6 809.5,666.1 813.5,667.0 817.5,668.0 821.5,669.2 825.5,670.8 829.5,672.2 833.5,673.3 837.5,673.5 841.5,673.2 845.5,672.2 849.5,670.6 853.5,668.7 857.5,666.8 861.5,664.4 865.5,661.9 869.5,659.3 873.5,657.3 877.5,655.3 881.5,653.7 885.5,652.4 889.5,650.7 893.5,648.6 897.5,645.9 901.5,643.4 905.5,641.3 909.5,639.5 913.5,638.0 917.5,636.6 921.5,635.3 925.5,634.8 929.5,634.7 933.5,635.3 937.5,636.1 941.5,637.0 945.5,637.7 949.5,638.4 953.5,638.8 957.5,638.7 961.5,638.3 965.5,637.7 969.5,636.7 973.5,635.1 977.5,633.5 981.5,631.6 985.5,629.6 989.5,627.7 993.5,626.4 997.5,625.8 1001.5,625.5 1005.5,625.8 1009.5,626.7 1013.5,627.7 1017.5,629.1 1021.5,630.8 1025.5,633.0 1029.5,635.3 1033.5,637.4 1037.5,639.6 1041.5,642.1 1045.5,644.8 1049.5,647.9 1053.5,651.1 1057.5,654.3 1061.5,657.3 1065.5,660.1 1069.5,662.8 1073.5,665.5 1077.5,668.0 1081.5,670.1 1085.5,671.8 1089.5,673.1 1093.5,674.0 1097.5,674.4 1101.5,674.7 1105.5,675.5 1109.5,676.4 1113.5,677.6 1117.5,678.7 1121.5,679.4 1125.5,680.0 1129.5,680.7 1133.5,681.4 1137.5,681.9 1141.5,681.9 1145.5,681.4 1149.5,680.3 1153.5,679.0 1157.5,678.0 1161.5,677.4 1165.5,677.0 1169.5,677.1 1173.5,677.8 1177.5,678.8 1181.5,680.1 1185.5,681.8 1189.5,683.6 1193.5,685.3 1197.5,686.4 1201.5,687.0 1205.5,687.1 1209.5,686.6 1213.5,685.4 1217.5,683.8 1221.5,681.8 1225.5,679.7 1229.5,677.5 1233.5,675.5 1237.5,673.4 1241.5,671.4 1245.5,668.8 1249.5,665.9 1253.5,662.7 1257.5,659.1 1261.5,655.1 1265.5,651.1 1269.5,647.2 1273.5,643.6 1277.5,640.1" fill="none" stroke="#ff0000" stroke-width="1" stroke-dasharray="3,3"/>
</g>
<rect x="0" y="26" width="1610" height="1" fill="#000"/>
<rect x="0" y="522" width="1610" height="1" fill="#000"/>
<rect x="0" y="26" width="1" height="497" fill="#000"/>
<rect x="1609" y="26" width="1" height="497" fill="#000"/>
<rect x="0" y="524" width="1610" height="1" fill="#000"/>
<rect x="0" y="615" width="1610" height="1" fill="#000"/>
<rect x="0" y="524" width="1" height="92" fill="#000"/>
<rect x="1609" y="524" width="1" height="92" fill="#000"/>
<rect x="0" y="617" width="1610" height="1" fill="#000"/>
<rect x="0" y="707" width="1610" height="1" fill="#000"/>
<rect x="0" y="617" width="1" height="91" fill="#000"/>
<rect x="1609" y="617" width="1" height="91" fill="#000"/>
<rect x="1610" y="57" width="2" height="1" fill="#000"/>
<rect x="1610" y="90" width="2" height="1" fill="#000"/>
<rect x="1610" y="123" width="2" height="1" fill="#000"/>
<rect x="1610" y="156" width="2" height="1" fill="#000"/>
<rect x="1610" y="189" width="2" height="1" fill="#000"/>
<rect x="1610" y="222" width="2" height="1" fill="#000"/>
<rect x="1610" y="255" width="2" height="1" fill="#000"/>
<rect x="1610" y="288" width="2" height="1" fill="#000"/>
<rect x="1610" y="321" width="2" height="1" fill="#000"/>
<rect x="1610" y="354" width="2" height="1" fill="#000"/>
<rect x="1610" y="387" width="2" height="1" fill="#000"/>
<rect x="1610" y="420" width="2" height="1" fill="#000"/>
<rect x="1610" y="453" width="2" height="1" fill="#000"/>
<rect x="1610" y="486" width="2" height="1" fill="#000"/>
<rect x="1610" y="519" width="2" height="1" fill="#000"/>
<rect x="1" y="708" width="1" height="4" fill="#000"/>
<rect x="65" y="708" width="1" height="4" fill="#000"/>
<rect x="129" y="708" width="1" height="4" fill="#000"/>
<rect x="193" y="708" width="1" height="4" fill="#000"/>
<rect x="257" y="708" width="1" height="4" fill="#000"/>
<rect x="321" y="708" width="1" height="4" fill="#000"/>
<rect x="385" y="708" width="1" height="4" fill="#000"/>
<rect x="449" y="708" width="1" height="4" fill="#000"/>
<rect x="513" y="708" width="1" height="4" fill="#000"/>
<rect x="577" y="708" width="1" height="4" fill="#000"/>
<rect x="641" y="708" width="1" height="4" fill="#000"/>
<rect x="705" y="708" width="1" height="4" fill="#000"/>
<rect x="769" y="708" width="1" height="4" fill="#000"/>
<rect x="833" y="708" width="1" height="4" fill="#000"/>
<rect x="897" y="708" width="1" height="4" fill="#000"/>
<rect x="961" y="708" width="1" height="4" fill="#000"/>
<rect x="1025" y="708" width="1" height="4" fill="#000"/>
<rect x="1089" y="708" width="1" height="4" fill="#000"/>
<rect x="1153" y="708" width="1" height="4" fill="#000"/>
<rect x="1217" y="708" width="1" height="4" fill="#000"/>
<rect x="1610" y="653" width="1" height="1" fill="#000"/>
<polygon points="1281,27 1290,27 1285.5,32" fill="#c0c0c0" shape-rendering="auto"/>
<rect x="1" y="52" width="1" height="17" fill="#ff0000"/>
<polygon points="4,37 11,37 7.5,33" fill="#000"/>
</svg>
<div style="position:absolute;left:2px;top:44px;width:223px;height:61px;background:#fff"></div>
<div style="position:absolute;left:4px;top:46px;width:52px;height:25px;background:linear-gradient(#5c5cff,#2a2ae4);border:1px solid #1a1ad0;border-bottom:none"></div>
<div style="position:absolute;left:171px;top:46px;width:52px;height:25px;background:linear-gradient(#5c5cff,#2a2ae4);border:1px solid #1a1ad0;border-bottom:none"></div>
<div style="position:absolute;left:4px;top:70px;width:109px;height:33px;background:linear-gradient(#2e2ee6,#0000a8);border:1px solid #0000b0;border-top:none"></div>
<div style="position:absolute;left:115px;top:70px;width:108px;height:33px;background:linear-gradient(#2e2ee6,#0000a8);border:1px solid #0000b0;border-top:none"></div>
<div style="position:absolute;left:8px;top:69px;width:44px;height:1px;background:#1c1cc0"></div>
<div style="position:absolute;left:175px;top:69px;width:44px;height:1px;background:#1c1cc0"></div>
<div style="position:absolute;left:8px;top:70px;width:44px;height:1px;background:#7a7aff"></div>
<div style="position:absolute;left:175px;top:70px;width:44px;height:1px;background:#7a7aff"></div>
<div style="position:absolute;left:56px;top:70px;width:57px;height:1px;background:#0000b8"></div>
<div style="position:absolute;left:115px;top:70px;width:56px;height:1px;background:#0000b8"></div>
<div style="position:absolute;left:58px;top:46px;width:111px;height:22px;background:#fff;border:1px solid #a8a8a8"></div>
<div style="position:absolute;left:59px;top:47px;width:21px;height:20px;background:linear-gradient(#f2f2f2 0%,#e8e8e8 50%,#d6d6d6 51%,#dcdcdc);border-right:1px solid #a8a8a8"></div>
<div style="position:absolute;left:147px;top:47px;width:21px;height:20px;background:linear-gradient(#f2f2f2 0%,#e8e8e8 50%,#d6d6d6 51%,#dcdcdc);border-left:1px solid #a8a8a8"></div>
<svg width="225" height="105" style="position:absolute;left:0;top:0"><polygon points="66,55 71,55 68.5,58" fill="#5a6ab0"/><polygon points="155,58 160,58 157.5,55" fill="#5a6ab0"/></svg>
<div style="position:absolute;left:16.3px;top:51.5px;font-size:12px;line-height:12px;color:#e8e8ff;font-weight:normal;white-space:nowrap;transform:scaleX(0.9);transform-origin:0 0">SELL</div>
<div style="position:absolute;left:183px;top:51.5px;font-size:12px;line-height:12px;color:#e8e8ff;font-weight:normal;white-space:nowrap;">BUY</div>
<div style="position:absolute;left:120px;top:51px;font-size:12px;line-height:12px;color:#000;font-weight:normal;white-space:nowrap;">2.00</div>
<div style="position:absolute;left:23.5px;top:87.5px;font-size:12px;line-height:12px;color:#fff;font-weight:bold;white-space:nowrap;letter-spacing:0.3px">6.46</div>
<div style="position:absolute;left:50.3px;top:67.5px;font-size:35px;line-height:35px;color:#fff;font-weight:normal;white-space:nowrap;transform:scaleX(0.94);transform-origin:0 0">06</div>
<div style="position:absolute;left:91.5px;top:72px;font-size:12px;line-height:12px;color:#fff;font-weight:bold;white-space:nowrap;">3</div>
<div style="position:absolute;left:133.2px;top:87.5px;font-size:12px;line-height:12px;color:#fff;font-weight:bold;white-space:nowrap;letter-spacing:0.3px">6.46</div>
<div style="position:absolute;left:161.6px;top:67.5px;font-size:35px;line-height:35px;color:#fff;font-weight:normal;white-space:nowrap;transform:scaleX(0.94);transform-origin:0 0">26</div>
<div style="position:absolute;left:201.5px;top:72px;font-size:12px;line-height:12px;color:#fff;font-weight:bold;white-space:nowrap;">7</div>
<div class="t" style="left:1615px;top:50px;font-size:9.6px;color:#000;">7.07855</div>
<div class="t" style="left:1615px;top:83px;font-size:9.6px;color:#000;">7.02585</div>
<div class="t" style="left:1615px;top:116px;font-size:9.6px;color:#000;">6.97315</div>
<div class="t" style="left:1615px;top:149px;font-size:9.6px;color:#000;">6.91890</div>
<div class="t" style="left:1615px;top:182px;font-size:9.6px;color:#000;">6.86620</div>
<div class="t" style="left:1615px;top:215px;font-size:9.6px;color:#000;">6.81350</div>
<div class="t" style="left:1615px;top:248px;font-size:9.6px;color:#000;">6.76080</div>
<div class="t" style="left:1615px;top:281px;font-size:9.6px;color:#000;">6.70810</div>
<div class="t" style="left:1615px;top:314px;font-size:9.6px;color:#000;">6.65540</div>
<div class="t" style="left:1615px;top:347px;font-size:9.6px;color:#000;">6.60115</div>
<div class="t" style="left:1615px;top:380px;font-size:9.6px;color:#000;">6.54845</div>
<div class="t" style="left:1615px;top:413px;font-size:9.6px;color:#000;">6.49575</div>
<div class="t" style="left:1615px;top:446px;font-size:9.6px;color:#000;">6.44305</div>
<div class="t" style="left:1615px;top:479px;font-size:9.6px;color:#000;">6.39035</div>
<div class="t" style="left:1615px;top:512px;font-size:9.6px;color:#000;">6.33765</div>
<div class="lbl" style="top:100px;background:#ff0000;color:#fff">7.00029</div>
<div class="lbl" style="top:169px;background:#ff0000;color:#fff">6.88897</div>
<div class="lbl" style="top:248px;background:#ff0000;color:#fff">6.76157</div>
<div class="lbl" style="top:333px;background:#ff0000;color:#fff">6.62646</div>
<div class="lbl" style="top:398px;background:#00ff00;color:#fff">6.52108</div>
<div class="lbl" style="top:437px;background:#000000;color:#fff">6.46060</div>
<div class="lbl" style="top:472px;background:#0000ff;color:#fff">6.40244</div>
<div class="t" style="left:0.3px;top:710px;font-size:9.6px;color:#000;">18 Jun 2020</div>
<div class="t" style="left:64.3px;top:710px;font-size:9.6px;color:#000;">7 Jul 2020</div>
<div class="t" style="left:128.3px;top:710px;font-size:9.6px;color:#000;">25 Jul 2020</div>
<div class="t" style="left:192.3px;top:710px;font-size:9.6px;color:#000;">13 Aug 2020</div>
<div class="t" style="left:256.3px;top:710px;font-size:9.6px;color:#000;">1 Sep 2020</div>
<div class="t" style="left:320.3px;top:710px;font-size:9.6px;color:#000;">19 Sep 2020</div>
<div class="t" style="left:384.3px;top:710px;font-size:9.6px;color:#000;">8 Oct 2020</div>
<div class="t" style="left:448.3px;top:710px;font-size:9.6px;color:#000;">27 Oct 2020</div>
<div class="t" style="left:512.3px;top:710px;font-size:9.6px;color:#000;">14 Nov 2020</div>
<div class="t" style="left:576.3px;top:710px;font-size:9.6px;color:#000;">3 Dec 2020</div>
<div class="t" style="left:640.3px;top:710px;font-size:9.6px;color:#000;">22 Dec 2020</div>
<div class="t" style="left:704.3px;top:710px;font-size:9.6px;color:#000;">11 Jan 2021</div>
<div class="t" style="left:768.3px;top:710px;font-size:9.6px;color:#000;">29 Jan 2021</div>
<div class="t" style="left:832.3px;top:710px;font-size:9.6px;color:#000;">17 Feb 2021</div>
<div class="t" style="left:896.3px;top:710px;font-size:9.6px;color:#000;">8 Mar 2021</div>
<div class="t" style="left:960.3px;top:710px;font-size:9.6px;color:#000;">26 Mar 2021</div>
<div class="t" style="left:1024.3px;top:710px;font-size:9.6px;color:#000;">14 Apr 2021</div>
<div class="t" style="left:1088.3px;top:710px;font-size:9.6px;color:#000;">3 May 2021</div>
<div class="t" style="left:1152.3px;top:710px;font-size:9.6px;color:#000;">21 May 2021</div>
<div class="t" style="left:1216.3px;top:710px;font-size:9.6px;color:#000;">9 Jun 2021</div>
<div class="t" style="left:1613px;top:524px;font-size:9.6px;color:#000;">100</div>
<div class="t" style="left:1613px;top:545px;font-size:9.6px;color:#000;">70</div>
<div class="t" style="left:1613px;top:581px;font-size:9.6px;color:#000;">30</div>
<div class="t" style="left:1613px;top:601px;font-size:9.6px;color:#000;">0</div>
<div class="t" style="left:1613px;top:618px;font-size:9.6px;color:#000;">0.025623</div>
<div class="t" style="left:1613px;top:646px;font-size:9.6px;color:#000;">0.00</div>
<div class="t" style="left:1613px;top:694px;font-size:9.6px;color:#000;">-0.040687</div>
<div class="t" style="left:5px;top:526px;font-size:9.6px;color:#000;">RSI(14) 59.7211</div>
<div class="t" style="left:5px;top:619px;font-size:9.6px;color:#000;">MACD(12,26,9) 0.015509 0.009658</div>
<div class="t" style="left:16px;top:28px;font-size:9.6px;color:#000;letter-spacing:0.1px">USDCNH,Daily</div>
<div class="t" style="left:88px;top:27.6px;font-size:9.6px;color:#000;letter-spacing:-0.35px">6.45993</div>
<div class="t" style="left:123.5px;top:27.6px;font-size:9.6px;color:#000;letter-spacing:-0.35px">6.46222</div>
<div class="t" style="left:159.7px;top:27.6px;font-size:9.6px;color:#000;letter-spacing:-0.35px">6.45785</div>
<div class="t" style="left:196px;top:27.6px;font-size:9.6px;color:#000;letter-spacing:-0.35px">6.46060</div>
<div style="position:absolute;left:0;top:728px;width:1656px;height:1px;background:#e3e3e3"></div>
<div style="position:absolute;left:0;top:729px;width:1657px;height:23px;background:#f0f0f0"></div>
<div style="position:absolute;left:0;top:729px;width:1657px;height:1px;background:#fff"></div>
<div style="position:absolute;left:0;top:750px;width:1657px;height:2px;background:#f8f8f8"></div>
<div style="position:absolute;left:0;top:730px;width:91px;height:1px;background:#000"></div>
<div style="position:absolute;left:193px;top:730px;width:1464px;height:1px;background:#000"></div>
<div style="position:absolute;left:90px;top:729px;width:104px;height:20px;background:#fff;border:1px solid #000;border-top:none"></div>
<div style="position:absolute;left:1655px;top:731px;width:1px;height:19px;background:#e3e3e3"></div>
<div class="tab" style="left:11.2px;color:#6d6d6d">USDCHF,H4</div>
<div class="tab" style="left:99.5px;color:#000">USDCNH,Daily</div>
<div class="tab" style="left:205.9px;color:#6d6d6d">EURUSD,H4</div>
<div class="tab" style="left:296.2px;color:#6d6d6d">AUDUSD,H4</div>
<div class="tab" style="left:388.2px;color:#6d6d6d">USDCAD,H4</div>
<div class="tab" style="left:480.8px;color:#6d6d6d">XAUUSD,H1</div>
<div class="tab" style="left:571.2px;color:#6d6d6d">USOil,H1</div>
<div style="position:absolute;left:286px;top:733px;width:1px;height:14px;background:#6d6d6d"></div>
<div style="position:absolute;left:378px;top:733px;width:1px;height:14px;background:#6d6d6d"></div>
<div style="position:absolute;left:470px;top:733px;width:1px;height:14px;background:#6d6d6d"></div>
<div style="position:absolute;left:562px;top:733px;width:1px;height:14px;background:#6d6d6d"></div>
<div style="position:absolute;left:634px;top:733px;width:1px;height:14px;background:#6d6d6d"></div>
<svg width="40" height="20" style="position:absolute;left:1620px;top:730px"><polygon points="8.2,5.8 8.2,12 4.8,8.9" fill="#8c8c8c"/><polygon points="24,5.8 24,12 27.3,8.9" fill="#8c8c8c"/></svg>
</body></html>
